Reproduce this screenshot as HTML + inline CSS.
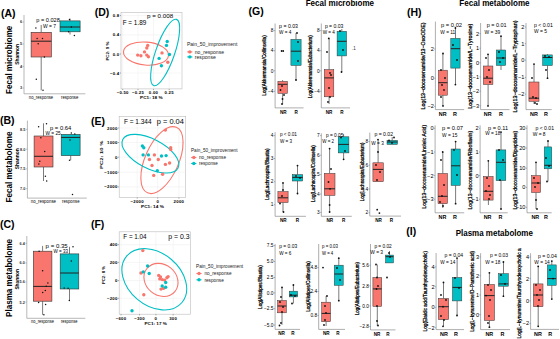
<!DOCTYPE html>
<html><head><meta charset="utf-8"><style>
html,body{margin:0;padding:0;background:#fff;overflow:hidden;}
svg{display:block;font-family:"Liberation Sans", sans-serif;}
</style></head><body>
<svg width="560" height="339" viewBox="0 0 560 339">
<rect width="560" height="339" fill="#fff"/>
<line x1="24.0" y1="15.0" x2="24.0" y2="93.8" stroke="#999" stroke-width="0.7"/>
<line x1="24.0" y1="93.8" x2="85.4" y2="93.8" stroke="#999" stroke-width="0.7"/>
<line x1="22.5" y1="22.0" x2="24.0" y2="22.0" stroke="#888" stroke-width="0.5"/>
<text x="22.0" y="23.4" text-anchor="end" font-size="3.8" font-weight="bold" fill="#333">6</text>
<line x1="22.5" y1="44.0" x2="24.0" y2="44.0" stroke="#888" stroke-width="0.5"/>
<text x="22.0" y="45.4" text-anchor="end" font-size="3.8" font-weight="bold" fill="#333">5</text>
<line x1="22.5" y1="66.4" x2="24.0" y2="66.4" stroke="#888" stroke-width="0.5"/>
<text x="22.0" y="67.8" text-anchor="end" font-size="3.8" font-weight="bold" fill="#333">4</text>
<line x1="22.5" y1="88.0" x2="24.0" y2="88.0" stroke="#888" stroke-width="0.5"/>
<text x="22.0" y="89.4" text-anchor="end" font-size="3.8" font-weight="bold" fill="#333">3</text>
<line x1="41.2" y1="25.0" x2="41.2" y2="32.3" stroke="#222" stroke-width="0.6"/>
<line x1="41.2" y1="57.0" x2="41.2" y2="90.3" stroke="#222" stroke-width="0.6"/>
<rect x="31.1" y="32.3" width="20.2" height="24.7" fill="#F8766D" stroke="#333" stroke-width="0.6"/>
<line x1="31.1" y1="41.2" x2="51.3" y2="41.2" stroke="#222" stroke-width="1.0"/>
<circle cx="36.3" cy="79.2" r="0.75" fill="#111"/>
<circle cx="43.0" cy="90.3" r="0.75" fill="#111"/>
<circle cx="44.4" cy="57.0" r="0.75" fill="#111"/>
<circle cx="37.1" cy="38.5" r="0.75" fill="#111"/>
<circle cx="42.5" cy="38.5" r="0.75" fill="#111"/>
<circle cx="38.2" cy="43.7" r="0.75" fill="#111"/>
<circle cx="35.9" cy="27.9" r="0.75" fill="#111"/>
<line x1="70.0" y1="18.6" x2="70.0" y2="20.9" stroke="#222" stroke-width="0.6"/>
<line x1="70.0" y1="31.8" x2="70.0" y2="34.5" stroke="#222" stroke-width="0.6"/>
<rect x="60.0" y="20.9" width="20.1" height="10.9" fill="#00BFC4" stroke="#333" stroke-width="0.6"/>
<line x1="60.0" y1="27.0" x2="80.1" y2="27.0" stroke="#222" stroke-width="1.0"/>
<circle cx="69.5" cy="19.4" r="0.75" fill="#111"/>
<circle cx="71.3" cy="26.9" r="0.75" fill="#111"/>
<circle cx="68.6" cy="31.8" r="0.75" fill="#111"/>
<circle cx="74.4" cy="35.4" r="0.75" fill="#111"/>
<text x="36.3" y="22.0" text-anchor="start" font-size="5.6" fill="#000" textLength="23.5" lengthAdjust="spacingAndGlyphs">p = 0.028</text>
<text x="43.0" y="28.0" text-anchor="start" font-size="5.6" fill="#000" textLength="13.0" lengthAdjust="spacingAndGlyphs">W = 7</text>
<text transform="translate(11.6,59.8) rotate(-90)" text-anchor="middle" font-size="8.8" font-weight="bold" fill="#000" textLength="68.2" lengthAdjust="spacingAndGlyphs">Fecal microbiome</text>
<text transform="translate(19.0,54.4) rotate(-90)" text-anchor="middle" font-size="4.9" font-weight="bold" fill="#000" textLength="20.8" lengthAdjust="spacingAndGlyphs">Shannon</text>
<text x="1.0" y="17.3" text-anchor="start" font-size="10.5" font-weight="bold" fill="#000">(A)</text>
<text x="28.8" y="98.9" text-anchor="start" font-size="4.7" fill="#000" textLength="24.4" lengthAdjust="spacingAndGlyphs">no_response</text>
<text x="61.0" y="98.9" text-anchor="start" font-size="4.7" fill="#000" textLength="17.3" lengthAdjust="spacingAndGlyphs">response</text>
<line x1="27.4" y1="120.6" x2="27.4" y2="198.1" stroke="#999" stroke-width="0.7"/>
<line x1="27.4" y1="198.1" x2="86.8" y2="198.1" stroke="#999" stroke-width="0.7"/>
<line x1="25.9" y1="129.4" x2="27.4" y2="129.4" stroke="#888" stroke-width="0.5"/>
<text x="25.4" y="130.8" text-anchor="end" font-size="3.8" font-weight="bold" fill="#333">8.5</text>
<line x1="25.9" y1="149.2" x2="27.4" y2="149.2" stroke="#888" stroke-width="0.5"/>
<text x="25.4" y="150.6" text-anchor="end" font-size="3.8" font-weight="bold" fill="#333">8.0</text>
<line x1="25.9" y1="168.9" x2="27.4" y2="168.9" stroke="#888" stroke-width="0.5"/>
<text x="25.4" y="170.3" text-anchor="end" font-size="3.8" font-weight="bold" fill="#333">7.5</text>
<line x1="25.9" y1="188.7" x2="27.4" y2="188.7" stroke="#888" stroke-width="0.5"/>
<text x="25.4" y="190.1" text-anchor="end" font-size="3.8" font-weight="bold" fill="#333">7.0</text>
<line x1="43.5" y1="123.3" x2="43.5" y2="136.0" stroke="#222" stroke-width="0.6"/>
<line x1="43.5" y1="167.0" x2="43.5" y2="181.0" stroke="#222" stroke-width="0.6"/>
<rect x="34.1" y="136.0" width="18.9" height="31.0" fill="#F8766D" stroke="#333" stroke-width="0.6"/>
<line x1="34.1" y1="156.3" x2="53.0" y2="156.3" stroke="#222" stroke-width="1.0"/>
<circle cx="40.9" cy="137.8" r="0.75" fill="#111"/>
<circle cx="44.7" cy="151.5" r="0.75" fill="#111"/>
<circle cx="39.8" cy="161.3" r="0.75" fill="#111"/>
<circle cx="38.9" cy="163.9" r="0.75" fill="#111"/>
<circle cx="38.6" cy="126.8" r="0.75" fill="#111"/>
<circle cx="46.5" cy="123.8" r="0.75" fill="#111"/>
<circle cx="45.4" cy="176.2" r="0.75" fill="#111"/>
<circle cx="46.7" cy="181.1" r="0.75" fill="#111"/>
<line x1="70.7" y1="134.4" x2="70.7" y2="134.4" stroke="#222" stroke-width="0.6"/>
<line x1="70.7" y1="155.6" x2="70.7" y2="160.3" stroke="#222" stroke-width="0.6"/>
<rect x="61.2" y="134.4" width="18.9" height="21.2" fill="#00BFC4" stroke="#333" stroke-width="0.6"/>
<line x1="61.2" y1="137.4" x2="80.1" y2="137.4" stroke="#222" stroke-width="1.0"/>
<circle cx="71.3" cy="133.0" r="0.75" fill="#111"/>
<circle cx="74.8" cy="133.9" r="0.75" fill="#111"/>
<circle cx="70.0" cy="140.0" r="0.75" fill="#111"/>
<circle cx="72.5" cy="194.5" r="0.75" fill="#111"/>
<circle cx="69.5" cy="160.3" r="0.75" fill="#111"/>
<text x="50.0" y="129.8" text-anchor="start" font-size="5.9" fill="#000" textLength="21.3" lengthAdjust="spacingAndGlyphs">p = 0.64</text>
<text x="45.6" y="135.0" text-anchor="start" font-size="5.6" fill="#000" textLength="15.1" lengthAdjust="spacingAndGlyphs">W = 25</text>
<text transform="translate(12.2,167.0) rotate(-90)" text-anchor="middle" font-size="8.8" font-weight="bold" fill="#000" textLength="71.0" lengthAdjust="spacingAndGlyphs">Fecal metabolome</text>
<text transform="translate(19.2,158.8) rotate(-90)" text-anchor="middle" font-size="4.9" font-weight="bold" fill="#000" textLength="20.8" lengthAdjust="spacingAndGlyphs">Shannon</text>
<text x="0.0" y="124.3" text-anchor="start" font-size="10.5" font-weight="bold" fill="#000">(B)</text>
<text x="30.8" y="203.4" text-anchor="start" font-size="4.7" fill="#000" textLength="25.2" lengthAdjust="spacingAndGlyphs">no_response</text>
<text x="62.1" y="203.4" text-anchor="start" font-size="4.7" fill="#000" textLength="17.4" lengthAdjust="spacingAndGlyphs">response</text>
<line x1="26.8" y1="236.0" x2="26.8" y2="318.3" stroke="#999" stroke-width="0.7"/>
<line x1="26.8" y1="318.3" x2="85.3" y2="318.3" stroke="#999" stroke-width="0.7"/>
<line x1="25.3" y1="243.3" x2="26.8" y2="243.3" stroke="#888" stroke-width="0.5"/>
<text x="24.8" y="244.7" text-anchor="end" font-size="3.8" font-weight="bold" fill="#333">6.4</text>
<line x1="25.3" y1="263.0" x2="26.8" y2="263.0" stroke="#888" stroke-width="0.5"/>
<text x="24.8" y="264.4" text-anchor="end" font-size="3.8" font-weight="bold" fill="#333">6.0</text>
<line x1="25.3" y1="282.0" x2="26.8" y2="282.0" stroke="#888" stroke-width="0.5"/>
<text x="24.8" y="283.4" text-anchor="end" font-size="3.8" font-weight="bold" fill="#333">5.6</text>
<line x1="25.3" y1="302.1" x2="26.8" y2="302.1" stroke="#888" stroke-width="0.5"/>
<text x="24.8" y="303.5" text-anchor="end" font-size="3.8" font-weight="bold" fill="#333">5.2</text>
<line x1="42.6" y1="245.9" x2="42.6" y2="251.2" stroke="#222" stroke-width="0.6"/>
<line x1="42.6" y1="301.2" x2="42.6" y2="314.8" stroke="#222" stroke-width="0.6"/>
<rect x="33.3" y="251.2" width="18.6" height="50.0" fill="#F8766D" stroke="#333" stroke-width="0.6"/>
<line x1="33.3" y1="286.4" x2="51.9" y2="286.4" stroke="#222" stroke-width="1.0"/>
<circle cx="39.1" cy="251.2" r="0.75" fill="#111"/>
<circle cx="42.6" cy="270.7" r="0.75" fill="#111"/>
<circle cx="47.9" cy="283.0" r="0.75" fill="#111"/>
<circle cx="46.2" cy="286.2" r="0.75" fill="#111"/>
<circle cx="42.7" cy="292.5" r="0.75" fill="#111"/>
<circle cx="45.3" cy="290.4" r="0.75" fill="#111"/>
<circle cx="38.6" cy="302.6" r="0.75" fill="#111"/>
<circle cx="45.6" cy="304.4" r="0.75" fill="#111"/>
<circle cx="43.9" cy="314.8" r="0.75" fill="#111"/>
<line x1="69.5" y1="246.8" x2="69.5" y2="253.9" stroke="#222" stroke-width="0.6"/>
<line x1="69.5" y1="289.0" x2="69.5" y2="300.5" stroke="#222" stroke-width="0.6"/>
<rect x="60.2" y="253.9" width="18.6" height="35.1" fill="#00BFC4" stroke="#333" stroke-width="0.6"/>
<line x1="60.2" y1="273.0" x2="78.8" y2="273.0" stroke="#222" stroke-width="1.0"/>
<circle cx="71.3" cy="260.9" r="0.75" fill="#111"/>
<circle cx="64.2" cy="288.0" r="0.75" fill="#111"/>
<circle cx="68.1" cy="288.3" r="0.75" fill="#111"/>
<circle cx="69.3" cy="300.5" r="0.75" fill="#111"/>
<circle cx="73.0" cy="246.8" r="0.75" fill="#111"/>
<text x="45.6" y="248.4" text-anchor="start" font-size="5.9" fill="#000" textLength="22.1" lengthAdjust="spacingAndGlyphs">p = 0.35</text>
<text x="53.6" y="253.1" text-anchor="start" font-size="5.4" fill="#000" textLength="14.4" lengthAdjust="spacingAndGlyphs">W = 33</text>
<text transform="translate(12.0,277.9) rotate(-90)" text-anchor="middle" font-size="8.8" font-weight="bold" fill="#000" textLength="78.0" lengthAdjust="spacingAndGlyphs">Plasma metabolome</text>
<text transform="translate(19.2,279.3) rotate(-90)" text-anchor="middle" font-size="4.9" font-weight="bold" fill="#000" textLength="20.6" lengthAdjust="spacingAndGlyphs">Shannon</text>
<text x="0.0" y="228.4" text-anchor="start" font-size="10.5" font-weight="bold" fill="#000">(C)</text>
<text x="31.0" y="323.1" text-anchor="start" font-size="4.7" fill="#000" textLength="23.0" lengthAdjust="spacingAndGlyphs">no_response</text>
<text x="61.0" y="323.1" text-anchor="start" font-size="4.7" fill="#000" textLength="16.5" lengthAdjust="spacingAndGlyphs">response</text>
<rect x="121" y="12.4" width="61.0" height="76.5" fill="#fff" stroke="#bbb" stroke-width="0.6"/>
<line x1="121.0" y1="15.6" x2="182.0" y2="15.6" stroke="#ececec" stroke-width="0.5"/>
<line x1="121.0" y1="34.9" x2="182.0" y2="34.9" stroke="#ececec" stroke-width="0.5"/>
<line x1="121.0" y1="54.0" x2="182.0" y2="54.0" stroke="#ececec" stroke-width="0.5"/>
<line x1="121.0" y1="73.0" x2="182.0" y2="73.0" stroke="#ececec" stroke-width="0.5"/>
<line x1="122.7" y1="12.4" x2="122.7" y2="88.9" stroke="#ececec" stroke-width="0.5"/>
<line x1="138.0" y1="12.4" x2="138.0" y2="88.9" stroke="#ececec" stroke-width="0.5"/>
<line x1="153.5" y1="12.4" x2="153.5" y2="88.9" stroke="#ececec" stroke-width="0.5"/>
<line x1="169.2" y1="12.4" x2="169.2" y2="88.9" stroke="#ececec" stroke-width="0.5"/>
<line x1="119.8" y1="15.6" x2="121.0" y2="15.6" stroke="#555" stroke-width="0.5"/>
<text x="119.4" y="17.1" text-anchor="end" font-size="4.3" font-weight="bold" fill="#000" letter-spacing="0.25">0.8</text>
<line x1="119.8" y1="34.9" x2="121.0" y2="34.9" stroke="#555" stroke-width="0.5"/>
<text x="119.4" y="36.4" text-anchor="end" font-size="4.3" font-weight="bold" fill="#000" letter-spacing="0.25">0.4</text>
<line x1="119.8" y1="54.0" x2="121.0" y2="54.0" stroke="#555" stroke-width="0.5"/>
<text x="119.4" y="55.5" text-anchor="end" font-size="4.3" font-weight="bold" fill="#000" letter-spacing="0.25">0.0</text>
<line x1="119.8" y1="73.0" x2="121.0" y2="73.0" stroke="#555" stroke-width="0.5"/>
<text x="119.4" y="74.5" text-anchor="end" font-size="4.3" font-weight="bold" fill="#000" letter-spacing="0.25">&#8722;0.4</text>
<line x1="122.7" y1="88.9" x2="122.7" y2="90.1" stroke="#555" stroke-width="0.5"/>
<text x="122.7" y="94.2" text-anchor="middle" font-size="4.3" font-weight="bold" fill="#000" letter-spacing="0.25">&#8722;0.50</text>
<line x1="138.0" y1="88.9" x2="138.0" y2="90.1" stroke="#555" stroke-width="0.5"/>
<text x="138.0" y="94.2" text-anchor="middle" font-size="4.3" font-weight="bold" fill="#000" letter-spacing="0.25">&#8722;0.25</text>
<line x1="153.5" y1="88.9" x2="153.5" y2="90.1" stroke="#555" stroke-width="0.5"/>
<text x="153.5" y="94.2" text-anchor="middle" font-size="4.3" font-weight="bold" fill="#000" letter-spacing="0.25">0.00</text>
<line x1="169.2" y1="88.9" x2="169.2" y2="90.1" stroke="#555" stroke-width="0.5"/>
<text x="169.2" y="94.2" text-anchor="middle" font-size="4.3" font-weight="bold" fill="#000" letter-spacing="0.25">0.25</text>
<ellipse cx="146" cy="53.6" rx="22.6" ry="11.5" transform="rotate(5 146 53.6)" fill="none" stroke="#F8766D" stroke-width="1.1"/>
<ellipse cx="165.15" cy="52.45" rx="35" ry="9.5" transform="rotate(-71 165.15 52.45)" fill="none" stroke="#00BFC4" stroke-width="1.1"/>
<circle cx="147.7" cy="45.4" r="1.7" fill="#F8766D"/>
<circle cx="146.8" cy="48.0" r="1.7" fill="#F8766D"/>
<circle cx="144.5" cy="51.9" r="1.7" fill="#F8766D"/>
<circle cx="137.7" cy="55.1" r="1.7" fill="#F8766D"/>
<circle cx="140.9" cy="55.8" r="1.7" fill="#F8766D"/>
<circle cx="146.8" cy="55.1" r="1.7" fill="#F8766D"/>
<circle cx="148.4" cy="56.8" r="1.7" fill="#F8766D"/>
<circle cx="162.0" cy="52.9" r="1.7" fill="#F8766D"/>
<circle cx="167.8" cy="62.3" r="1.7" fill="#F8766D"/>
<circle cx="167.2" cy="41.5" r="1.7" fill="#00BFC4"/>
<circle cx="166.5" cy="45.4" r="1.7" fill="#00BFC4"/>
<circle cx="169.5" cy="54.5" r="1.7" fill="#00BFC4"/>
<circle cx="159.1" cy="58.4" r="1.7" fill="#00BFC4"/>
<circle cx="161.4" cy="65.8" r="1.7" fill="#00BFC4"/>
<text x="122.7" y="25.0" text-anchor="start" font-size="6.4" fill="#000" textLength="23.6" lengthAdjust="spacingAndGlyphs">F = 1.89</text>
<text x="147.0" y="18.1" text-anchor="start" font-size="6.2" fill="#000" textLength="26.1" lengthAdjust="spacingAndGlyphs">p = 0.008</text>
<text transform="translate(108.7,51.1) rotate(-90)" text-anchor="middle" font-size="4.3" font-weight="bold" fill="#000" textLength="19.0" lengthAdjust="spacingAndGlyphs">PC2: 9 %</text>
<text x="140.0" y="98.9" text-anchor="start" font-size="4.3" font-weight="bold" fill="#000" textLength="22.7" lengthAdjust="spacingAndGlyphs">PC1: 18 %</text>
<text x="94.7" y="16.1" text-anchor="start" font-size="10.5" font-weight="bold" fill="#000">(D)</text>
<text x="186.9" y="45.9" text-anchor="start" font-size="5.4" fill="#1a1a1a" textLength="50.4" lengthAdjust="spacingAndGlyphs">Pain_50_improvement</text>
<circle cx="189.8" cy="51.9" r="1.7" fill="#F8766D"/>
<circle cx="189.8" cy="56.9" r="1.7" fill="#00BFC4"/>
<line x1="187.2" y1="51.9" x2="192.4" y2="51.9" stroke="#F8766D" stroke-width="1.0"/>
<line x1="187.2" y1="56.9" x2="192.4" y2="56.9" stroke="#00BFC4" stroke-width="1.0"/>
<text x="194.8" y="53.8" text-anchor="start" font-size="5.4" fill="#1a1a1a" textLength="29.2" lengthAdjust="spacingAndGlyphs">no_response</text>
<text x="194.8" y="58.8" text-anchor="start" font-size="5.4" fill="#1a1a1a" textLength="21.1" lengthAdjust="spacingAndGlyphs">response</text>
<rect x="119.2" y="116.5" width="66.5" height="81.0" fill="#fff" stroke="#bbb" stroke-width="0.6"/>
<line x1="119.2" y1="128.0" x2="185.7" y2="128.0" stroke="#ececec" stroke-width="0.5"/>
<line x1="119.2" y1="142.5" x2="185.7" y2="142.5" stroke="#ececec" stroke-width="0.5"/>
<line x1="119.2" y1="157.2" x2="185.7" y2="157.2" stroke="#ececec" stroke-width="0.5"/>
<line x1="119.2" y1="172.2" x2="185.7" y2="172.2" stroke="#ececec" stroke-width="0.5"/>
<line x1="119.2" y1="186.9" x2="185.7" y2="186.9" stroke="#ececec" stroke-width="0.5"/>
<line x1="137.2" y1="116.5" x2="137.2" y2="197.5" stroke="#ececec" stroke-width="0.5"/>
<line x1="157.7" y1="116.5" x2="157.7" y2="197.5" stroke="#ececec" stroke-width="0.5"/>
<line x1="178.9" y1="116.5" x2="178.9" y2="197.5" stroke="#ececec" stroke-width="0.5"/>
<line x1="118.0" y1="128.0" x2="119.2" y2="128.0" stroke="#555" stroke-width="0.5"/>
<text x="117.6" y="129.5" text-anchor="end" font-size="4.3" font-weight="bold" fill="#000" letter-spacing="0.25">2000</text>
<line x1="118.0" y1="142.5" x2="119.2" y2="142.5" stroke="#555" stroke-width="0.5"/>
<text x="117.6" y="144.0" text-anchor="end" font-size="4.3" font-weight="bold" fill="#000" letter-spacing="0.25">1000</text>
<line x1="118.0" y1="157.2" x2="119.2" y2="157.2" stroke="#555" stroke-width="0.5"/>
<text x="117.6" y="158.7" text-anchor="end" font-size="4.3" font-weight="bold" fill="#000" letter-spacing="0.25">0</text>
<line x1="118.0" y1="172.2" x2="119.2" y2="172.2" stroke="#555" stroke-width="0.5"/>
<text x="117.6" y="173.7" text-anchor="end" font-size="4.3" font-weight="bold" fill="#000" letter-spacing="0.25">&#8722;1000</text>
<line x1="118.0" y1="186.9" x2="119.2" y2="186.9" stroke="#555" stroke-width="0.5"/>
<text x="117.6" y="188.4" text-anchor="end" font-size="4.3" font-weight="bold" fill="#000" letter-spacing="0.25">&#8722;2000</text>
<line x1="137.2" y1="197.5" x2="137.2" y2="198.7" stroke="#555" stroke-width="0.5"/>
<text x="137.2" y="202.8" text-anchor="middle" font-size="4.3" font-weight="bold" fill="#000" letter-spacing="0.25">&#8722;2000</text>
<line x1="157.7" y1="197.5" x2="157.7" y2="198.7" stroke="#555" stroke-width="0.5"/>
<text x="157.7" y="202.8" text-anchor="middle" font-size="4.3" font-weight="bold" fill="#000" letter-spacing="0.25">0</text>
<line x1="178.9" y1="197.5" x2="178.9" y2="198.7" stroke="#555" stroke-width="0.5"/>
<text x="178.9" y="202.8" text-anchor="middle" font-size="4.3" font-weight="bold" fill="#000" letter-spacing="0.25">2000</text>
<ellipse cx="161.95" cy="160.1" rx="35.8" ry="16.8" transform="rotate(-66.2 161.95 160.1)" fill="none" stroke="#F8766D" stroke-width="1.1"/>
<ellipse cx="150.4" cy="153.7" rx="31.1" ry="14.7" transform="rotate(27.3 150.4 153.7)" fill="none" stroke="#00BFC4" stroke-width="1.1"/>
<circle cx="165.4" cy="130.1" r="1.7" fill="#F8766D"/>
<circle cx="170.7" cy="147.8" r="1.7" fill="#F8766D"/>
<circle cx="170.7" cy="149.6" r="1.7" fill="#F8766D"/>
<circle cx="154.4" cy="154.9" r="1.7" fill="#F8766D"/>
<circle cx="149.5" cy="159.5" r="1.7" fill="#F8766D"/>
<circle cx="158.3" cy="159.5" r="1.7" fill="#F8766D"/>
<circle cx="165.4" cy="164.4" r="1.7" fill="#F8766D"/>
<circle cx="169.6" cy="163.0" r="1.7" fill="#F8766D"/>
<circle cx="152.0" cy="165.5" r="1.7" fill="#F8766D"/>
<circle cx="153.7" cy="175.4" r="1.7" fill="#F8766D"/>
<circle cx="162.6" cy="174.3" r="1.7" fill="#F8766D"/>
<circle cx="142.4" cy="146.0" r="1.7" fill="#00BFC4"/>
<circle cx="143.8" cy="147.8" r="1.7" fill="#00BFC4"/>
<circle cx="143.1" cy="154.9" r="1.7" fill="#00BFC4"/>
<circle cx="148.4" cy="154.9" r="1.7" fill="#00BFC4"/>
<circle cx="161.5" cy="156.0" r="1.7" fill="#00BFC4"/>
<circle cx="166.1" cy="155.6" r="1.7" fill="#00BFC4"/>
<circle cx="157.3" cy="170.8" r="1.7" fill="#00BFC4"/>
<text x="124.0" y="123.7" text-anchor="start" font-size="6.8" fill="#000" textLength="27.5" lengthAdjust="spacingAndGlyphs">F = 1.344</text>
<text x="156.8" y="123.7" text-anchor="start" font-size="7.4" fill="#000" textLength="27.1" lengthAdjust="spacingAndGlyphs">p = 0.04</text>
<text transform="translate(102.5,154.8) rotate(-90)" text-anchor="middle" font-size="4.3" font-weight="bold" fill="#000" textLength="28.3" lengthAdjust="spacingAndGlyphs">PC2: 10 %</text>
<text x="141.0" y="207.5" text-anchor="start" font-size="4.3" font-weight="bold" fill="#000" textLength="22.9" lengthAdjust="spacingAndGlyphs">PC1: 14 %</text>
<text x="90.9" y="125.0" text-anchor="start" font-size="10.5" font-weight="bold" fill="#000">(E)</text>
<text x="191.0" y="152.2" text-anchor="start" font-size="5.4" fill="#1a1a1a" textLength="46.5" lengthAdjust="spacingAndGlyphs">Pain_50_improvement</text>
<circle cx="193.8" cy="157.5" r="1.7" fill="#F8766D"/>
<circle cx="193.8" cy="163.5" r="1.7" fill="#00BFC4"/>
<line x1="191.2" y1="157.5" x2="196.4" y2="157.5" stroke="#F8766D" stroke-width="1.0"/>
<line x1="191.2" y1="163.5" x2="196.4" y2="163.5" stroke="#00BFC4" stroke-width="1.0"/>
<text x="199.0" y="159.4" text-anchor="start" font-size="5.4" fill="#1a1a1a" textLength="27.0" lengthAdjust="spacingAndGlyphs">no_response</text>
<text x="199.0" y="165.4" text-anchor="start" font-size="5.4" fill="#1a1a1a" textLength="18.8" lengthAdjust="spacingAndGlyphs">response</text>
<rect x="119.2" y="231.8" width="71.2" height="82.4" fill="#fff" stroke="#bbb" stroke-width="0.6"/>
<line x1="119.2" y1="244.7" x2="190.4" y2="244.7" stroke="#ececec" stroke-width="0.5"/>
<line x1="119.2" y1="262.4" x2="190.4" y2="262.4" stroke="#ececec" stroke-width="0.5"/>
<line x1="119.2" y1="280.6" x2="190.4" y2="280.6" stroke="#ececec" stroke-width="0.5"/>
<line x1="119.2" y1="298.3" x2="190.4" y2="298.3" stroke="#ececec" stroke-width="0.5"/>
<line x1="121.0" y1="231.8" x2="121.0" y2="314.2" stroke="#ececec" stroke-width="0.5"/>
<line x1="139.5" y1="231.8" x2="139.5" y2="314.2" stroke="#ececec" stroke-width="0.5"/>
<line x1="155.9" y1="231.8" x2="155.9" y2="314.2" stroke="#ececec" stroke-width="0.5"/>
<line x1="173.2" y1="231.8" x2="173.2" y2="314.2" stroke="#ececec" stroke-width="0.5"/>
<line x1="118.0" y1="244.7" x2="119.2" y2="244.7" stroke="#555" stroke-width="0.5"/>
<text x="117.6" y="246.2" text-anchor="end" font-size="4.3" font-weight="bold" fill="#000" letter-spacing="0.25">400</text>
<line x1="118.0" y1="262.4" x2="119.2" y2="262.4" stroke="#555" stroke-width="0.5"/>
<text x="117.6" y="263.9" text-anchor="end" font-size="4.3" font-weight="bold" fill="#000" letter-spacing="0.25">200</text>
<line x1="118.0" y1="280.6" x2="119.2" y2="280.6" stroke="#555" stroke-width="0.5"/>
<text x="117.6" y="282.1" text-anchor="end" font-size="4.3" font-weight="bold" fill="#000" letter-spacing="0.25">0</text>
<line x1="118.0" y1="298.3" x2="119.2" y2="298.3" stroke="#555" stroke-width="0.5"/>
<text x="117.6" y="299.8" text-anchor="end" font-size="4.3" font-weight="bold" fill="#000" letter-spacing="0.25">&#8722;200</text>
<line x1="121.0" y1="314.2" x2="121.0" y2="315.4" stroke="#555" stroke-width="0.5"/>
<text x="121.0" y="319.5" text-anchor="middle" font-size="4.3" font-weight="bold" fill="#000" letter-spacing="0.25">&#8722;600</text>
<line x1="139.5" y1="314.2" x2="139.5" y2="315.4" stroke="#555" stroke-width="0.5"/>
<text x="139.5" y="319.5" text-anchor="middle" font-size="4.3" font-weight="bold" fill="#000" letter-spacing="0.25">&#8722;300</text>
<line x1="155.9" y1="314.2" x2="155.9" y2="315.4" stroke="#555" stroke-width="0.5"/>
<text x="155.9" y="319.5" text-anchor="middle" font-size="4.3" font-weight="bold" fill="#000" letter-spacing="0.25">0</text>
<line x1="173.2" y1="314.2" x2="173.2" y2="315.4" stroke="#555" stroke-width="0.5"/>
<text x="173.2" y="319.5" text-anchor="middle" font-size="4.3" font-weight="bold" fill="#000" letter-spacing="0.25">300</text>
<ellipse cx="161" cy="279.9" rx="18.1" ry="15.4" transform="rotate(40 161 279.9)" fill="none" stroke="#F8766D" stroke-width="1.1"/>
<ellipse cx="154.3" cy="279.3" rx="36.1" ry="26.2" transform="rotate(40 154.3 279.3)" fill="none" stroke="#00BFC4" stroke-width="1.1"/>
<circle cx="142.8" cy="250.6" r="1.7" fill="#F8766D"/>
<circle cx="141.0" cy="273.0" r="1.7" fill="#F8766D"/>
<circle cx="143.8" cy="294.7" r="1.7" fill="#F8766D"/>
<circle cx="158.7" cy="275.4" r="1.7" fill="#F8766D"/>
<circle cx="159.8" cy="278.9" r="1.7" fill="#F8766D"/>
<circle cx="162.2" cy="279.6" r="1.7" fill="#F8766D"/>
<circle cx="164.6" cy="280.1" r="1.7" fill="#F8766D"/>
<circle cx="166.9" cy="277.8" r="1.7" fill="#F8766D"/>
<circle cx="168.1" cy="276.6" r="1.7" fill="#F8766D"/>
<circle cx="161.0" cy="289.1" r="1.7" fill="#F8766D"/>
<circle cx="163.4" cy="288.4" r="1.7" fill="#F8766D"/>
<circle cx="160.5" cy="277.0" r="1.7" fill="#F8766D"/>
<circle cx="147.6" cy="266.0" r="1.7" fill="#00BFC4"/>
<circle cx="143.3" cy="271.9" r="1.7" fill="#00BFC4"/>
<circle cx="149.2" cy="273.5" r="1.7" fill="#00BFC4"/>
<circle cx="165.7" cy="282.5" r="1.7" fill="#00BFC4"/>
<circle cx="162.2" cy="286.0" r="1.7" fill="#00BFC4"/>
<circle cx="165.7" cy="287.2" r="1.7" fill="#00BFC4"/>
<circle cx="132.0" cy="310.8" r="1.7" fill="#00BFC4"/>
<text x="123.3" y="238.9" text-anchor="start" font-size="6.3" fill="#000" textLength="23.3" lengthAdjust="spacingAndGlyphs">F = 1.04</text>
<text x="168.3" y="238.7" text-anchor="start" font-size="6.9" fill="#000" textLength="21.3" lengthAdjust="spacingAndGlyphs">p = 0.3</text>
<text transform="translate(104.8,275.0) rotate(-90)" text-anchor="middle" font-size="4.3" font-weight="bold" fill="#000" textLength="18.0" lengthAdjust="spacingAndGlyphs">PC2: 8 %</text>
<text x="144.5" y="324.5" text-anchor="start" font-size="4.3" font-weight="bold" fill="#000" textLength="22.4" lengthAdjust="spacingAndGlyphs">PC1: 17 %</text>
<text x="90.9" y="228.4" text-anchor="start" font-size="10.5" font-weight="bold" fill="#000">(F)</text>
<text x="196.0" y="268.2" text-anchor="start" font-size="5.4" fill="#1a1a1a" textLength="47.1" lengthAdjust="spacingAndGlyphs">Pain_50_improvement</text>
<circle cx="199.0" cy="273.5" r="1.7" fill="#F8766D"/>
<circle cx="199.0" cy="279.8" r="1.7" fill="#00BFC4"/>
<line x1="196.4" y1="273.5" x2="201.6" y2="273.5" stroke="#F8766D" stroke-width="1.0"/>
<line x1="196.4" y1="279.8" x2="201.6" y2="279.8" stroke="#00BFC4" stroke-width="1.0"/>
<text x="204.4" y="275.4" text-anchor="start" font-size="5.4" fill="#1a1a1a" textLength="27.1" lengthAdjust="spacingAndGlyphs">no_response</text>
<text x="204.4" y="281.7" text-anchor="start" font-size="5.4" fill="#1a1a1a" textLength="19.4" lengthAdjust="spacingAndGlyphs">response</text>
<text x="248.5" y="14.7" text-anchor="start" font-size="10.5" font-weight="bold" fill="#000">(G)</text>
<text x="305.7" y="6.2" text-anchor="start" font-size="8.6" font-weight="bold" fill="#000" textLength="68.4" lengthAdjust="spacingAndGlyphs">Fecal microbiome</text>
<line x1="275.1" y1="23.5" x2="275.1" y2="107.9" stroke="#777" stroke-width="0.6"/>
<line x1="275.1" y1="107.9" x2="303.6" y2="107.9" stroke="#777" stroke-width="0.6"/>
<line x1="273.9" y1="30.6" x2="275.1" y2="30.6" stroke="#666" stroke-width="0.5"/>
<text x="273.5" y="32.3" text-anchor="end" font-size="4.8" fill="#000">8</text>
<line x1="273.9" y1="50.7" x2="275.1" y2="50.7" stroke="#666" stroke-width="0.5"/>
<text x="273.5" y="52.4" text-anchor="end" font-size="4.8" fill="#000">4</text>
<line x1="273.9" y1="70.8" x2="275.1" y2="70.8" stroke="#666" stroke-width="0.5"/>
<text x="273.5" y="72.5" text-anchor="end" font-size="4.8" fill="#000">0</text>
<line x1="273.9" y1="91.3" x2="275.1" y2="91.3" stroke="#666" stroke-width="0.5"/>
<text x="273.5" y="93.0" text-anchor="end" font-size="4.8" fill="#000">&#8722;4</text>
<line x1="282.6" y1="80.0" x2="282.6" y2="81.4" stroke="#222" stroke-width="0.6"/>
<line x1="282.6" y1="93.4" x2="282.6" y2="104.3" stroke="#222" stroke-width="0.6"/>
<rect x="277.9" y="81.4" width="9.5" height="12.0" fill="#F8766D" stroke="#333" stroke-width="0.5"/>
<line x1="277.9" y1="84.3" x2="287.4" y2="84.3" stroke="#222" stroke-width="1.0"/>
<circle cx="281.6" cy="51.0" r="0.9" fill="#111"/>
<circle cx="283.2" cy="51.0" r="0.9" fill="#111"/>
<circle cx="282.0" cy="86.0" r="0.9" fill="#111"/>
<circle cx="280.5" cy="90.0" r="0.9" fill="#111"/>
<circle cx="284.0" cy="95.0" r="0.9" fill="#111"/>
<circle cx="282.5" cy="99.0" r="0.9" fill="#111"/>
<circle cx="282.0" cy="104.0" r="0.9" fill="#111"/>
<line x1="296.0" y1="33.0" x2="296.0" y2="39.4" stroke="#222" stroke-width="0.6"/>
<line x1="296.0" y1="65.4" x2="296.0" y2="80.2" stroke="#222" stroke-width="0.6"/>
<rect x="290.9" y="39.4" width="10.2" height="26.0" fill="#00BFC4" stroke="#333" stroke-width="0.5"/>
<line x1="290.9" y1="51.2" x2="301.1" y2="51.2" stroke="#222" stroke-width="1.0"/>
<circle cx="297.0" cy="33.0" r="0.9" fill="#111"/>
<circle cx="298.0" cy="42.0" r="0.9" fill="#111"/>
<circle cx="298.0" cy="61.0" r="0.9" fill="#111"/>
<circle cx="296.0" cy="80.0" r="0.9" fill="#111"/>
<text transform="translate(266.3,65.5) rotate(-90)" text-anchor="middle" font-size="4.65" fill="#000" stroke="#000" stroke-width="0.25" textLength="60.4" lengthAdjust="spacingAndGlyphs">Log(Akkermansia/Collinsella)</text>
<text x="279.1" y="27.8" text-anchor="start" font-size="5.2" fill="#000" textLength="18.9" lengthAdjust="spacingAndGlyphs">p = 0.03</text>
<text x="278.9" y="34.1" text-anchor="start" font-size="5.2" fill="#000" textLength="12.4" lengthAdjust="spacingAndGlyphs">W = 4</text>
<text x="283.2" y="113.7" text-anchor="middle" font-size="4.6" font-weight="bold" fill="#000">NR</text>
<text x="296.2" y="113.7" text-anchor="middle" font-size="4.6" font-weight="bold" fill="#000">R</text>
<line x1="321.3" y1="23.5" x2="321.3" y2="107.9" stroke="#777" stroke-width="0.6"/>
<line x1="321.3" y1="107.9" x2="350.0" y2="107.9" stroke="#777" stroke-width="0.6"/>
<line x1="320.1" y1="30.6" x2="321.3" y2="30.6" stroke="#666" stroke-width="0.5"/>
<text x="319.7" y="32.3" text-anchor="end" font-size="4.8" fill="#000">8</text>
<line x1="320.1" y1="50.7" x2="321.3" y2="50.7" stroke="#666" stroke-width="0.5"/>
<text x="319.7" y="52.4" text-anchor="end" font-size="4.8" fill="#000">4</text>
<line x1="320.1" y1="70.8" x2="321.3" y2="70.8" stroke="#666" stroke-width="0.5"/>
<text x="319.7" y="72.5" text-anchor="end" font-size="4.8" fill="#000">0</text>
<line x1="320.1" y1="91.3" x2="321.3" y2="91.3" stroke="#666" stroke-width="0.5"/>
<text x="319.7" y="93.0" text-anchor="end" font-size="4.8" fill="#000">&#8722;4</text>
<line x1="329.1" y1="38.4" x2="329.1" y2="69.6" stroke="#222" stroke-width="0.6"/>
<line x1="329.1" y1="96.8" x2="329.1" y2="104.0" stroke="#222" stroke-width="0.6"/>
<rect x="324.3" y="69.6" width="9.5" height="27.2" fill="#F8766D" stroke="#333" stroke-width="0.5"/>
<line x1="324.3" y1="77.9" x2="333.8" y2="77.9" stroke="#222" stroke-width="1.0"/>
<circle cx="328.8" cy="38.4" r="0.9" fill="#111"/>
<circle cx="327.0" cy="52.0" r="0.9" fill="#111"/>
<circle cx="330.0" cy="73.0" r="0.9" fill="#111"/>
<circle cx="331.0" cy="75.0" r="0.9" fill="#111"/>
<circle cx="329.0" cy="88.0" r="0.9" fill="#111"/>
<circle cx="330.0" cy="97.0" r="0.9" fill="#111"/>
<circle cx="328.0" cy="102.0" r="0.9" fill="#111"/>
<line x1="341.8" y1="29.0" x2="341.8" y2="31.3" stroke="#222" stroke-width="0.6"/>
<line x1="341.8" y1="55.9" x2="341.8" y2="72.0" stroke="#222" stroke-width="0.6"/>
<rect x="337.1" y="31.3" width="9.4" height="24.6" fill="#00BFC4" stroke="#333" stroke-width="0.5"/>
<line x1="337.1" y1="41.3" x2="346.5" y2="41.3" stroke="#222" stroke-width="1.0"/>
<circle cx="340.0" cy="31.0" r="0.9" fill="#111"/>
<circle cx="343.0" cy="50.0" r="0.9" fill="#111"/>
<circle cx="341.5" cy="72.0" r="0.9" fill="#111"/>
<text transform="translate(312.1,66.7) rotate(-90)" text-anchor="middle" font-size="4.65" fill="#000" stroke="#000" stroke-width="0.25" textLength="63.0" lengthAdjust="spacingAndGlyphs">Log(Akkermansia/Eubacterium)</text>
<text x="324.9" y="28.0" text-anchor="start" font-size="5.2" fill="#000" textLength="18.5" lengthAdjust="spacingAndGlyphs">p = 0.03</text>
<text x="322.7" y="34.1" text-anchor="start" font-size="5.2" fill="#000" textLength="12.2" lengthAdjust="spacingAndGlyphs">W = 4</text>
<text x="329.0" y="113.7" text-anchor="middle" font-size="4.6" font-weight="bold" fill="#000">NR</text>
<text x="342.0" y="113.7" text-anchor="middle" font-size="4.6" font-weight="bold" fill="#000">R</text>
<text x="352.0" y="50.3" text-anchor="start" font-size="4.5" fill="#333">.1</text>
<line x1="275.1" y1="132.1" x2="275.1" y2="216.3" stroke="#777" stroke-width="0.6"/>
<line x1="275.1" y1="216.3" x2="305.9" y2="216.3" stroke="#777" stroke-width="0.6"/>
<line x1="273.9" y1="135.6" x2="275.1" y2="135.6" stroke="#666" stroke-width="0.5"/>
<text x="273.5" y="137.3" text-anchor="end" font-size="4.8" fill="#000">4</text>
<line x1="273.9" y1="158.5" x2="275.1" y2="158.5" stroke="#666" stroke-width="0.5"/>
<text x="273.5" y="160.2" text-anchor="end" font-size="4.8" fill="#000">3</text>
<line x1="273.9" y1="181.7" x2="275.1" y2="181.7" stroke="#666" stroke-width="0.5"/>
<text x="273.5" y="183.4" text-anchor="end" font-size="4.8" fill="#000">2</text>
<line x1="273.9" y1="204.7" x2="275.1" y2="204.7" stroke="#666" stroke-width="0.5"/>
<text x="273.5" y="206.4" text-anchor="end" font-size="4.8" fill="#000">1</text>
<line x1="283.0" y1="182.9" x2="283.0" y2="191.6" stroke="#222" stroke-width="0.6"/>
<line x1="283.0" y1="202.5" x2="283.0" y2="212.0" stroke="#222" stroke-width="0.6"/>
<rect x="277.9" y="191.6" width="10.2" height="10.9" fill="#F8766D" stroke="#333" stroke-width="0.5"/>
<line x1="277.9" y1="197.8" x2="288.1" y2="197.8" stroke="#222" stroke-width="1.0"/>
<circle cx="283.0" cy="182.9" r="0.9" fill="#111"/>
<circle cx="283.0" cy="190.0" r="0.9" fill="#111"/>
<circle cx="282.0" cy="196.0" r="0.9" fill="#111"/>
<circle cx="280.0" cy="203.5" r="0.9" fill="#111"/>
<circle cx="283.5" cy="212.0" r="0.9" fill="#111"/>
<line x1="297.5" y1="165.6" x2="297.5" y2="174.6" stroke="#222" stroke-width="0.6"/>
<line x1="297.5" y1="181.0" x2="297.5" y2="193.5" stroke="#222" stroke-width="0.6"/>
<rect x="292.3" y="174.6" width="10.4" height="6.4" fill="#00BFC4" stroke="#333" stroke-width="0.5"/>
<line x1="292.3" y1="177.4" x2="302.7" y2="177.4" stroke="#222" stroke-width="1.0"/>
<circle cx="297.5" cy="165.6" r="0.9" fill="#111"/>
<circle cx="296.0" cy="176.0" r="0.9" fill="#111"/>
<circle cx="300.0" cy="178.0" r="0.9" fill="#111"/>
<circle cx="297.5" cy="193.5" r="0.9" fill="#111"/>
<text transform="translate(268.7,174.2) rotate(-90)" text-anchor="middle" font-size="4.65" fill="#000" stroke="#000" stroke-width="0.25" textLength="51.7" lengthAdjust="spacingAndGlyphs">Log(Lachnospira/Blautia)</text>
<text x="279.9" y="136.3" text-anchor="start" font-size="5.2" fill="#000" textLength="17.1" lengthAdjust="spacingAndGlyphs">p &lt; 0.01</text>
<text x="279.9" y="143.0" text-anchor="start" font-size="5.2" fill="#000" textLength="12.1" lengthAdjust="spacingAndGlyphs">W = 3</text>
<text x="283.2" y="222.1" text-anchor="middle" font-size="4.6" font-weight="bold" fill="#000">NR</text>
<text x="297.4" y="222.1" text-anchor="middle" font-size="4.6" font-weight="bold" fill="#000">R</text>
<line x1="321.3" y1="133.3" x2="321.3" y2="216.3" stroke="#777" stroke-width="0.6"/>
<line x1="321.3" y1="216.3" x2="351.8" y2="216.3" stroke="#777" stroke-width="0.6"/>
<line x1="320.1" y1="135.6" x2="321.3" y2="135.6" stroke="#666" stroke-width="0.5"/>
<text x="319.7" y="137.3" text-anchor="end" font-size="4.8" fill="#000">7</text>
<line x1="320.1" y1="155.2" x2="321.3" y2="155.2" stroke="#666" stroke-width="0.5"/>
<text x="319.7" y="156.9" text-anchor="end" font-size="4.8" fill="#000">6</text>
<line x1="320.1" y1="174.6" x2="321.3" y2="174.6" stroke="#666" stroke-width="0.5"/>
<text x="319.7" y="176.3" text-anchor="end" font-size="4.8" fill="#000">5</text>
<line x1="320.1" y1="194.0" x2="321.3" y2="194.0" stroke="#666" stroke-width="0.5"/>
<text x="319.7" y="195.7" text-anchor="end" font-size="4.8" fill="#000">4</text>
<line x1="320.1" y1="212.4" x2="321.3" y2="212.4" stroke="#666" stroke-width="0.5"/>
<text x="319.7" y="214.1" text-anchor="end" font-size="4.8" fill="#000">3</text>
<line x1="329.6" y1="148.6" x2="329.6" y2="173.4" stroke="#222" stroke-width="0.6"/>
<line x1="329.6" y1="195.4" x2="329.6" y2="212.0" stroke="#222" stroke-width="0.6"/>
<rect x="324.3" y="173.4" width="10.7" height="22.0" fill="#F8766D" stroke="#333" stroke-width="0.5"/>
<line x1="324.3" y1="188.8" x2="335.0" y2="188.8" stroke="#222" stroke-width="1.0"/>
<circle cx="329.6" cy="148.6" r="0.9" fill="#111"/>
<circle cx="331.0" cy="169.0" r="0.9" fill="#111"/>
<circle cx="328.5" cy="182.0" r="0.9" fill="#111"/>
<circle cx="330.0" cy="188.8" r="0.9" fill="#111"/>
<circle cx="329.6" cy="205.0" r="0.9" fill="#111"/>
<circle cx="329.6" cy="212.0" r="0.9" fill="#111"/>
<line x1="343.6" y1="134.0" x2="343.6" y2="136.8" stroke="#222" stroke-width="0.6"/>
<line x1="343.6" y1="152.9" x2="343.6" y2="159.3" stroke="#222" stroke-width="0.6"/>
<rect x="338.3" y="136.8" width="10.6" height="16.1" fill="#00BFC4" stroke="#333" stroke-width="0.5"/>
<line x1="338.3" y1="144.4" x2="348.9" y2="144.4" stroke="#222" stroke-width="1.0"/>
<circle cx="341.0" cy="137.5" r="0.9" fill="#111"/>
<circle cx="345.0" cy="151.0" r="0.9" fill="#111"/>
<circle cx="343.6" cy="159.3" r="0.9" fill="#111"/>
<text transform="translate(314.8,173.6) rotate(-90)" text-anchor="middle" font-size="4.65" fill="#000" stroke="#000" stroke-width="0.25" textLength="56.8" lengthAdjust="spacingAndGlyphs">Log(Lachnospira/Collinsella)</text>
<text x="326.0" y="136.8" text-anchor="start" font-size="5.2" fill="#000" textLength="17.4" lengthAdjust="spacingAndGlyphs">p = 0.05</text>
<text x="322.3" y="143.0" text-anchor="start" font-size="5.2" fill="#000" textLength="11.8" lengthAdjust="spacingAndGlyphs">W = 2</text>
<text x="329.8" y="222.1" text-anchor="middle" font-size="4.6" font-weight="bold" fill="#000">NR</text>
<text x="343.6" y="222.1" text-anchor="middle" font-size="4.6" font-weight="bold" fill="#000">R</text>
<line x1="369.8" y1="132.6" x2="369.8" y2="216.1" stroke="#777" stroke-width="0.6"/>
<line x1="369.8" y1="216.1" x2="401.0" y2="216.1" stroke="#777" stroke-width="0.6"/>
<line x1="368.6" y1="141.5" x2="369.8" y2="141.5" stroke="#666" stroke-width="0.5"/>
<text x="368.2" y="143.2" text-anchor="end" font-size="4.8" fill="#000">8</text>
<line x1="368.6" y1="165.2" x2="369.8" y2="165.2" stroke="#666" stroke-width="0.5"/>
<text x="368.2" y="166.9" text-anchor="end" font-size="4.8" fill="#000">6</text>
<line x1="368.6" y1="188.8" x2="369.8" y2="188.8" stroke="#666" stroke-width="0.5"/>
<text x="368.2" y="190.5" text-anchor="end" font-size="4.8" fill="#000">4</text>
<line x1="368.6" y1="212.7" x2="369.8" y2="212.7" stroke="#666" stroke-width="0.5"/>
<text x="368.2" y="214.4" text-anchor="end" font-size="4.8" fill="#000">2</text>
<line x1="378.1" y1="139.6" x2="378.1" y2="162.8" stroke="#222" stroke-width="0.6"/>
<line x1="378.1" y1="181.7" x2="378.1" y2="181.7" stroke="#222" stroke-width="0.6"/>
<rect x="372.9" y="162.8" width="10.4" height="18.9" fill="#F8766D" stroke="#333" stroke-width="0.5"/>
<line x1="372.9" y1="169.4" x2="383.3" y2="169.4" stroke="#222" stroke-width="1.0"/>
<circle cx="378.0" cy="139.6" r="0.9" fill="#111"/>
<circle cx="378.0" cy="152.0" r="0.9" fill="#111"/>
<circle cx="376.0" cy="165.0" r="0.9" fill="#111"/>
<circle cx="380.0" cy="172.0" r="0.9" fill="#111"/>
<circle cx="377.0" cy="180.0" r="0.9" fill="#111"/>
<circle cx="377.2" cy="209.7" r="0.9" fill="#111"/>
<circle cx="379.4" cy="213.1" r="0.9" fill="#111"/>
<line x1="392.2" y1="137.0" x2="392.2" y2="140.4" stroke="#222" stroke-width="0.6"/>
<line x1="392.2" y1="144.4" x2="392.2" y2="144.4" stroke="#222" stroke-width="0.6"/>
<rect x="387.0" y="140.4" width="10.4" height="4.0" fill="#00BFC4" stroke="#333" stroke-width="0.5"/>
<line x1="387.0" y1="142.0" x2="397.4" y2="142.0" stroke="#222" stroke-width="1.0"/>
<circle cx="389.0" cy="140.5" r="0.9" fill="#111"/>
<circle cx="392.0" cy="143.0" r="0.9" fill="#111"/>
<circle cx="394.0" cy="137.5" r="0.9" fill="#111"/>
<text transform="translate(363.5,171.9) rotate(-90)" text-anchor="middle" font-size="4.65" fill="#000" stroke="#000" stroke-width="0.25" textLength="58.5" lengthAdjust="spacingAndGlyphs">Log(Lachnospira/Eubacterium)</text>
<text x="374.4" y="136.2" text-anchor="start" font-size="5.2" fill="#000" textLength="18.7" lengthAdjust="spacingAndGlyphs">p = 0.02</text>
<text x="371.3" y="144.7" text-anchor="start" font-size="5.2" fill="#000" textLength="12.5" lengthAdjust="spacingAndGlyphs">W = 3</text>
<text x="378.5" y="221.9" text-anchor="middle" font-size="4.6" font-weight="bold" fill="#000">NR</text>
<text x="391.5" y="221.9" text-anchor="middle" font-size="4.6" font-weight="bold" fill="#000">R</text>
<line x1="275.1" y1="244.0" x2="275.1" y2="329.4" stroke="#777" stroke-width="0.6"/>
<line x1="275.1" y1="329.4" x2="300.0" y2="329.4" stroke="#777" stroke-width="0.6"/>
<line x1="273.9" y1="245.6" x2="275.1" y2="245.6" stroke="#666" stroke-width="0.5"/>
<text x="273.5" y="247.3" text-anchor="end" font-size="4.8" fill="#000">7.5</text>
<line x1="273.9" y1="261.5" x2="275.1" y2="261.5" stroke="#666" stroke-width="0.5"/>
<text x="273.5" y="263.2" text-anchor="end" font-size="4.8" fill="#000">5.0</text>
<line x1="273.9" y1="277.5" x2="275.1" y2="277.5" stroke="#666" stroke-width="0.5"/>
<text x="273.5" y="279.2" text-anchor="end" font-size="4.8" fill="#000">2.5</text>
<line x1="273.9" y1="292.9" x2="275.1" y2="292.9" stroke="#666" stroke-width="0.5"/>
<text x="273.5" y="294.6" text-anchor="end" font-size="4.8" fill="#000">0.0</text>
<line x1="273.9" y1="308.7" x2="275.1" y2="308.7" stroke="#666" stroke-width="0.5"/>
<text x="273.5" y="310.4" text-anchor="end" font-size="4.8" fill="#000">&#8722;2.5</text>
<line x1="273.9" y1="325.1" x2="275.1" y2="325.1" stroke="#666" stroke-width="0.5"/>
<text x="273.5" y="326.8" text-anchor="end" font-size="4.8" fill="#000">&#8722;5.0</text>
<line x1="282.0" y1="287.4" x2="282.0" y2="300.5" stroke="#222" stroke-width="0.6"/>
<line x1="282.0" y1="312.8" x2="282.0" y2="324.8" stroke="#222" stroke-width="0.6"/>
<rect x="277.6" y="300.5" width="8.7" height="12.3" fill="#F8766D" stroke="#333" stroke-width="0.5"/>
<line x1="277.6" y1="306.0" x2="286.3" y2="306.0" stroke="#222" stroke-width="1.0"/>
<circle cx="282.0" cy="287.4" r="0.9" fill="#111"/>
<circle cx="281.0" cy="297.0" r="0.9" fill="#111"/>
<circle cx="280.0" cy="302.0" r="0.9" fill="#111"/>
<circle cx="283.0" cy="307.0" r="0.9" fill="#111"/>
<circle cx="282.0" cy="312.0" r="0.9" fill="#111"/>
<circle cx="281.0" cy="323.0" r="0.9" fill="#111"/>
<circle cx="279.5" cy="325.5" r="0.9" fill="#111"/>
<line x1="293.4" y1="285.0" x2="293.4" y2="291.2" stroke="#222" stroke-width="0.6"/>
<line x1="293.4" y1="296.9" x2="293.4" y2="303.5" stroke="#222" stroke-width="0.6"/>
<rect x="289.3" y="291.2" width="8.2" height="5.7" fill="#00BFC4" stroke="#333" stroke-width="0.5"/>
<line x1="289.3" y1="295.2" x2="297.5" y2="295.2" stroke="#222" stroke-width="1.0"/>
<circle cx="293.4" cy="285.0" r="0.9" fill="#111"/>
<circle cx="291.0" cy="295.0" r="0.9" fill="#111"/>
<circle cx="295.0" cy="296.0" r="0.9" fill="#111"/>
<circle cx="292.0" cy="303.5" r="0.9" fill="#111"/>
<text transform="translate(262.3,287.1) rotate(-90)" text-anchor="middle" font-size="4.65" fill="#000" stroke="#000" stroke-width="0.25" textLength="43.7" lengthAdjust="spacingAndGlyphs">Log(Alistipes/Blautia)</text>
<text x="279.2" y="247.5" text-anchor="start" font-size="5.2" fill="#000" textLength="18.0" lengthAdjust="spacingAndGlyphs">p = 0.03</text>
<text x="279.2" y="254.6" text-anchor="start" font-size="5.2" fill="#000" textLength="12.2" lengthAdjust="spacingAndGlyphs">W = 6</text>
<text x="281.6" y="335.2" text-anchor="middle" font-size="4.6" font-weight="bold" fill="#000">NR</text>
<text x="293.0" y="335.2" text-anchor="middle" font-size="4.6" font-weight="bold" fill="#000">R</text>
<line x1="318.7" y1="244.0" x2="318.7" y2="329.4" stroke="#777" stroke-width="0.6"/>
<line x1="318.7" y1="329.4" x2="345.0" y2="329.4" stroke="#777" stroke-width="0.6"/>
<line x1="317.5" y1="267.6" x2="318.7" y2="267.6" stroke="#666" stroke-width="0.5"/>
<text x="317.1" y="269.3" text-anchor="end" font-size="4.8" fill="#000">4.8</text>
<line x1="317.5" y1="291.5" x2="318.7" y2="291.5" stroke="#666" stroke-width="0.5"/>
<text x="317.1" y="293.2" text-anchor="end" font-size="4.8" fill="#000">2.4</text>
<line x1="317.5" y1="315.4" x2="318.7" y2="315.4" stroke="#666" stroke-width="0.5"/>
<text x="317.1" y="317.1" text-anchor="end" font-size="4.8" fill="#000">0.8</text>
<line x1="326.1" y1="296.0" x2="326.1" y2="302.2" stroke="#222" stroke-width="0.6"/>
<line x1="326.1" y1="321.7" x2="326.1" y2="326.0" stroke="#222" stroke-width="0.6"/>
<rect x="321.7" y="302.2" width="8.8" height="19.5" fill="#F8766D" stroke="#333" stroke-width="0.5"/>
<line x1="321.7" y1="313.4" x2="330.5" y2="313.4" stroke="#222" stroke-width="1.0"/>
<circle cx="323.0" cy="267.6" r="0.9" fill="#111"/>
<circle cx="327.0" cy="296.0" r="0.9" fill="#111"/>
<circle cx="325.0" cy="306.0" r="0.9" fill="#111"/>
<circle cx="326.0" cy="313.0" r="0.9" fill="#111"/>
<circle cx="325.0" cy="320.0" r="0.9" fill="#111"/>
<circle cx="324.0" cy="325.0" r="0.9" fill="#111"/>
<line x1="338.8" y1="258.2" x2="338.8" y2="265.2" stroke="#222" stroke-width="0.6"/>
<line x1="338.8" y1="285.3" x2="338.8" y2="300.7" stroke="#222" stroke-width="0.6"/>
<rect x="334.3" y="265.2" width="8.9" height="20.1" fill="#00BFC4" stroke="#333" stroke-width="0.5"/>
<line x1="334.3" y1="274.0" x2="343.2" y2="274.0" stroke="#222" stroke-width="1.0"/>
<circle cx="338.8" cy="258.2" r="0.9" fill="#111"/>
<circle cx="337.0" cy="268.0" r="0.9" fill="#111"/>
<circle cx="340.0" cy="280.0" r="0.9" fill="#111"/>
<circle cx="338.8" cy="300.7" r="0.9" fill="#111"/>
<text transform="translate(309.5,286.5) rotate(-90)" text-anchor="middle" font-size="4.65" fill="#000" stroke="#000" stroke-width="0.25" textLength="50.6" lengthAdjust="spacingAndGlyphs">Log(Alistipes/Collinsella)</text>
<text x="322.0" y="248.2" text-anchor="start" font-size="5.2" fill="#000" textLength="16.0" lengthAdjust="spacingAndGlyphs">p = 0.03</text>
<text x="322.0" y="254.6" text-anchor="start" font-size="5.2" fill="#000" textLength="11.2" lengthAdjust="spacingAndGlyphs">W = 4</text>
<text x="326.3" y="335.2" text-anchor="middle" font-size="4.6" font-weight="bold" fill="#000">NR</text>
<text x="338.0" y="335.2" text-anchor="middle" font-size="4.6" font-weight="bold" fill="#000">R</text>
<line x1="370.5" y1="244.0" x2="370.5" y2="329.9" stroke="#777" stroke-width="0.6"/>
<line x1="370.5" y1="329.9" x2="395.5" y2="329.9" stroke="#777" stroke-width="0.6"/>
<line x1="369.3" y1="265.2" x2="370.5" y2="265.2" stroke="#666" stroke-width="0.5"/>
<text x="368.9" y="266.9" text-anchor="end" font-size="4.8" fill="#000">5.6</text>
<line x1="369.3" y1="285.8" x2="370.5" y2="285.8" stroke="#666" stroke-width="0.5"/>
<text x="368.9" y="287.5" text-anchor="end" font-size="4.8" fill="#000">2.8</text>
<line x1="369.3" y1="305.9" x2="370.5" y2="305.9" stroke="#666" stroke-width="0.5"/>
<text x="368.9" y="307.6" text-anchor="end" font-size="4.8" fill="#000">0.0</text>
<line x1="369.3" y1="326.5" x2="370.5" y2="326.5" stroke="#666" stroke-width="0.5"/>
<text x="368.9" y="328.2" text-anchor="end" font-size="4.8" fill="#000">&#8722;2.8</text>
<line x1="377.3" y1="264.5" x2="377.3" y2="277.5" stroke="#222" stroke-width="0.6"/>
<line x1="377.3" y1="306.4" x2="377.3" y2="326.0" stroke="#222" stroke-width="0.6"/>
<rect x="372.9" y="277.5" width="8.8" height="28.9" fill="#F8766D" stroke="#333" stroke-width="0.5"/>
<line x1="372.9" y1="288.9" x2="381.7" y2="288.9" stroke="#222" stroke-width="1.0"/>
<circle cx="376.0" cy="264.5" r="0.9" fill="#111"/>
<circle cx="377.0" cy="277.5" r="0.9" fill="#111"/>
<circle cx="378.0" cy="286.0" r="0.9" fill="#111"/>
<circle cx="376.5" cy="289.0" r="0.9" fill="#111"/>
<circle cx="377.0" cy="306.0" r="0.9" fill="#111"/>
<circle cx="377.0" cy="321.0" r="0.9" fill="#111"/>
<circle cx="378.0" cy="325.5" r="0.9" fill="#111"/>
<line x1="389.5" y1="251.0" x2="389.5" y2="255.1" stroke="#222" stroke-width="0.6"/>
<line x1="389.5" y1="262.9" x2="389.5" y2="262.9" stroke="#222" stroke-width="0.6"/>
<rect x="385.6" y="255.1" width="7.8" height="7.8" fill="#00BFC4" stroke="#333" stroke-width="0.5"/>
<line x1="385.6" y1="256.7" x2="393.4" y2="256.7" stroke="#222" stroke-width="1.0"/>
<circle cx="387.0" cy="277.5" r="0.9" fill="#111"/>
<circle cx="389.0" cy="253.0" r="0.9" fill="#111"/>
<circle cx="390.0" cy="257.0" r="0.9" fill="#111"/>
<text transform="translate(359.3,288.6) rotate(-90)" text-anchor="middle" font-size="4.65" fill="#000" stroke="#000" stroke-width="0.25" textLength="53.0" lengthAdjust="spacingAndGlyphs">Log(Alistipes/Eubacterium)</text>
<text x="374.4" y="248.2" text-anchor="start" font-size="5.2" fill="#000" textLength="17.4" lengthAdjust="spacingAndGlyphs">p = 0.02</text>
<text x="370.2" y="253.9" text-anchor="start" font-size="5.2" fill="#000" textLength="12.9" lengthAdjust="spacingAndGlyphs">W = 3</text>
<text x="377.0" y="335.7" text-anchor="middle" font-size="4.6" font-weight="bold" fill="#000">NR</text>
<text x="388.0" y="335.7" text-anchor="middle" font-size="4.6" font-weight="bold" fill="#000">R</text>
<text x="406.9" y="15.8" text-anchor="start" font-size="10.5" font-weight="bold" fill="#000">(H)</text>
<text x="459.3" y="6.2" text-anchor="start" font-size="8.6" font-weight="bold" fill="#000" textLength="70.3" lengthAdjust="spacingAndGlyphs">Fecal metabolome</text>
<text x="455.7" y="236.1" text-anchor="start" font-size="8.6" font-weight="bold" fill="#000" textLength="77.2" lengthAdjust="spacingAndGlyphs">Plasma metabolome</text>
<text x="406.3" y="235.4" text-anchor="start" font-size="10.5" font-weight="bold" fill="#000">(I)</text>
<line x1="435.4" y1="21.6" x2="435.4" y2="109.6" stroke="#777" stroke-width="0.6"/>
<line x1="435.4" y1="109.6" x2="464.2" y2="109.6" stroke="#777" stroke-width="0.6"/>
<line x1="434.2" y1="49.0" x2="435.4" y2="49.0" stroke="#666" stroke-width="0.5"/>
<text x="433.8" y="51.0" text-anchor="end" font-size="5.6" fill="#000">2</text>
<line x1="434.2" y1="78.2" x2="435.4" y2="78.2" stroke="#666" stroke-width="0.5"/>
<text x="433.8" y="80.2" text-anchor="end" font-size="5.6" fill="#000">0</text>
<line x1="434.2" y1="106.4" x2="435.4" y2="106.4" stroke="#666" stroke-width="0.5"/>
<text x="433.8" y="108.4" text-anchor="end" font-size="5.6" fill="#000">&#8722;2</text>
<line x1="442.9" y1="53.5" x2="442.9" y2="70.2" stroke="#222" stroke-width="0.6"/>
<line x1="442.9" y1="95.2" x2="442.9" y2="105.9" stroke="#222" stroke-width="0.6"/>
<rect x="438.4" y="70.2" width="9.0" height="25.0" fill="#F8766D" stroke="#333" stroke-width="0.5"/>
<line x1="438.4" y1="82.7" x2="447.4" y2="82.7" stroke="#222" stroke-width="1.0"/>
<circle cx="443.0" cy="53.5" r="0.9" fill="#111"/>
<circle cx="441.0" cy="70.0" r="0.9" fill="#111"/>
<circle cx="445.0" cy="78.0" r="0.9" fill="#111"/>
<circle cx="442.0" cy="85.0" r="0.9" fill="#111"/>
<circle cx="444.0" cy="90.0" r="0.9" fill="#111"/>
<circle cx="441.0" cy="97.0" r="0.9" fill="#111"/>
<circle cx="443.0" cy="105.9" r="0.9" fill="#111"/>
<line x1="455.5" y1="28.0" x2="455.5" y2="38.4" stroke="#222" stroke-width="0.6"/>
<line x1="455.5" y1="68.1" x2="455.5" y2="84.6" stroke="#222" stroke-width="0.6"/>
<rect x="450.8" y="38.4" width="9.3" height="29.7" fill="#00BFC4" stroke="#333" stroke-width="0.5"/>
<line x1="450.8" y1="48.7" x2="460.1" y2="48.7" stroke="#222" stroke-width="1.0"/>
<circle cx="455.4" cy="28.0" r="0.9" fill="#111"/>
<circle cx="453.0" cy="45.0" r="0.9" fill="#111"/>
<circle cx="457.0" cy="60.0" r="0.9" fill="#111"/>
<circle cx="455.4" cy="84.6" r="0.9" fill="#111"/>
<text transform="translate(425.4,66.0) rotate(-90)" text-anchor="middle" font-size="5.25" fill="#000" stroke="#000" stroke-width="0.25" textLength="86.8" lengthAdjust="spacingAndGlyphs">Log(13−docosenamide/13−OxoODE)</text>
<text x="441.0" y="27.1" text-anchor="start" font-size="5.5" fill="#000" textLength="21.1" lengthAdjust="spacingAndGlyphs">p = 0.02</text>
<text x="440.3" y="33.8" text-anchor="start" font-size="5.5" fill="#000" textLength="15.0" lengthAdjust="spacingAndGlyphs">W = 11</text>
<text x="442.7" y="116.2" text-anchor="middle" font-size="5.4" font-weight="bold" fill="#000">NR</text>
<text x="455.0" y="116.2" text-anchor="middle" font-size="5.4" font-weight="bold" fill="#000">R</text>
<line x1="480.6" y1="23.0" x2="480.6" y2="109.6" stroke="#777" stroke-width="0.6"/>
<line x1="480.6" y1="109.6" x2="509.5" y2="109.6" stroke="#777" stroke-width="0.6"/>
<line x1="479.4" y1="33.6" x2="480.6" y2="33.6" stroke="#666" stroke-width="0.5"/>
<text x="479.0" y="35.6" text-anchor="end" font-size="5.6" fill="#000">2</text>
<line x1="479.4" y1="48.2" x2="480.6" y2="48.2" stroke="#666" stroke-width="0.5"/>
<text x="479.0" y="50.2" text-anchor="end" font-size="5.6" fill="#000">1</text>
<line x1="479.4" y1="62.8" x2="480.6" y2="62.8" stroke="#666" stroke-width="0.5"/>
<text x="479.0" y="64.8" text-anchor="end" font-size="5.6" fill="#000">0</text>
<line x1="479.4" y1="76.9" x2="480.6" y2="76.9" stroke="#666" stroke-width="0.5"/>
<text x="479.0" y="78.9" text-anchor="end" font-size="5.6" fill="#000">&#8722;1</text>
<line x1="479.4" y1="91.2" x2="480.6" y2="91.2" stroke="#666" stroke-width="0.5"/>
<text x="479.0" y="93.2" text-anchor="end" font-size="5.6" fill="#000">&#8722;2</text>
<line x1="479.4" y1="105.9" x2="480.6" y2="105.9" stroke="#666" stroke-width="0.5"/>
<text x="479.0" y="107.9" text-anchor="end" font-size="5.6" fill="#000">&#8722;3</text>
<line x1="488.1" y1="54.3" x2="488.1" y2="66.0" stroke="#222" stroke-width="0.6"/>
<line x1="488.1" y1="84.5" x2="488.1" y2="105.9" stroke="#222" stroke-width="0.6"/>
<rect x="483.4" y="66.0" width="9.5" height="18.5" fill="#F8766D" stroke="#333" stroke-width="0.5"/>
<line x1="483.4" y1="78.2" x2="492.9" y2="78.2" stroke="#222" stroke-width="1.0"/>
<circle cx="488.0" cy="54.3" r="0.9" fill="#111"/>
<circle cx="486.0" cy="58.0" r="0.9" fill="#111"/>
<circle cx="489.0" cy="70.0" r="0.9" fill="#111"/>
<circle cx="487.0" cy="77.0" r="0.9" fill="#111"/>
<circle cx="490.0" cy="82.0" r="0.9" fill="#111"/>
<circle cx="488.0" cy="105.9" r="0.9" fill="#111"/>
<line x1="501.0" y1="36.2" x2="501.0" y2="50.0" stroke="#222" stroke-width="0.6"/>
<line x1="501.0" y1="65.4" x2="501.0" y2="70.0" stroke="#222" stroke-width="0.6"/>
<rect x="496.4" y="50.0" width="9.3" height="15.4" fill="#00BFC4" stroke="#333" stroke-width="0.5"/>
<line x1="496.4" y1="58.0" x2="505.7" y2="58.0" stroke="#222" stroke-width="1.0"/>
<circle cx="501.0" cy="36.2" r="0.9" fill="#111"/>
<circle cx="499.0" cy="52.0" r="0.9" fill="#111"/>
<circle cx="503.0" cy="58.0" r="0.9" fill="#111"/>
<circle cx="500.0" cy="62.0" r="0.9" fill="#111"/>
<text transform="translate(471.5,66.3) rotate(-90)" text-anchor="middle" font-size="5.25" fill="#000" stroke="#000" stroke-width="0.25" textLength="85.0" lengthAdjust="spacingAndGlyphs">Log(13−docosenamide/L−Tyrosine)</text>
<text x="486.7" y="27.1" text-anchor="start" font-size="5.5" fill="#000" textLength="20.0" lengthAdjust="spacingAndGlyphs">p = 0.01</text>
<text x="484.6" y="33.8" text-anchor="start" font-size="5.5" fill="#000" textLength="15.7" lengthAdjust="spacingAndGlyphs">W = 39</text>
<text x="487.7" y="116.2" text-anchor="middle" font-size="5.4" font-weight="bold" fill="#000">NR</text>
<text x="501.0" y="116.2" text-anchor="middle" font-size="5.4" font-weight="bold" fill="#000">R</text>
<line x1="526.0" y1="23.0" x2="526.0" y2="109.6" stroke="#777" stroke-width="0.6"/>
<line x1="526.0" y1="109.6" x2="551.7" y2="109.6" stroke="#777" stroke-width="0.6"/>
<line x1="524.8" y1="27.0" x2="526.0" y2="27.0" stroke="#666" stroke-width="0.5"/>
<text x="524.4" y="29.0" text-anchor="end" font-size="5.6" fill="#000">2</text>
<line x1="524.8" y1="43.7" x2="526.0" y2="43.7" stroke="#666" stroke-width="0.5"/>
<text x="524.4" y="45.7" text-anchor="end" font-size="5.6" fill="#000">1</text>
<line x1="524.8" y1="60.2" x2="526.0" y2="60.2" stroke="#666" stroke-width="0.5"/>
<text x="524.4" y="62.2" text-anchor="end" font-size="5.6" fill="#000">0</text>
<line x1="524.8" y1="77.4" x2="526.0" y2="77.4" stroke="#666" stroke-width="0.5"/>
<text x="524.4" y="79.4" text-anchor="end" font-size="5.6" fill="#000">&#8722;1</text>
<line x1="524.8" y1="94.2" x2="526.0" y2="94.2" stroke="#666" stroke-width="0.5"/>
<text x="524.4" y="96.2" text-anchor="end" font-size="5.6" fill="#000">&#8722;2</text>
<line x1="534.0" y1="64.1" x2="534.0" y2="82.0" stroke="#222" stroke-width="0.6"/>
<line x1="534.0" y1="101.3" x2="534.0" y2="104.0" stroke="#222" stroke-width="0.6"/>
<rect x="528.9" y="82.0" width="10.1" height="19.3" fill="#F8766D" stroke="#333" stroke-width="0.5"/>
<line x1="528.9" y1="98.2" x2="539.0" y2="98.2" stroke="#222" stroke-width="1.0"/>
<circle cx="534.0" cy="64.1" r="0.9" fill="#111"/>
<circle cx="532.0" cy="78.0" r="0.9" fill="#111"/>
<circle cx="533.0" cy="97.0" r="0.9" fill="#111"/>
<circle cx="536.0" cy="98.0" r="0.9" fill="#111"/>
<circle cx="535.0" cy="103.0" r="0.9" fill="#111"/>
<circle cx="537.0" cy="104.0" r="0.9" fill="#111"/>
<line x1="547.5" y1="54.0" x2="547.5" y2="54.9" stroke="#222" stroke-width="0.6"/>
<line x1="547.5" y1="65.5" x2="547.5" y2="78.2" stroke="#222" stroke-width="0.6"/>
<rect x="542.7" y="54.9" width="9.6" height="10.6" fill="#00BFC4" stroke="#333" stroke-width="0.5"/>
<line x1="542.7" y1="57.5" x2="552.3" y2="57.5" stroke="#222" stroke-width="1.0"/>
<circle cx="545.0" cy="56.0" r="0.9" fill="#111"/>
<circle cx="549.0" cy="57.0" r="0.9" fill="#111"/>
<circle cx="546.0" cy="70.0" r="0.9" fill="#111"/>
<circle cx="547.5" cy="78.2" r="0.9" fill="#111"/>
<text transform="translate(517.2,66.5) rotate(-90)" text-anchor="middle" font-size="5.25" fill="#000" stroke="#000" stroke-width="0.25" textLength="91.9" lengthAdjust="spacingAndGlyphs">Log(13−docosenamide/L−Tryptophan)</text>
<text x="533.9" y="27.3" text-anchor="start" font-size="5.5" fill="#000" textLength="18.9" lengthAdjust="spacingAndGlyphs">p &lt; 0.01</text>
<text x="534.0" y="33.4" text-anchor="start" font-size="5.5" fill="#000" textLength="12.9" lengthAdjust="spacingAndGlyphs">W = 5</text>
<text x="534.0" y="116.2" text-anchor="middle" font-size="5.4" font-weight="bold" fill="#000">NR</text>
<text x="546.0" y="116.2" text-anchor="middle" font-size="5.4" font-weight="bold" fill="#000">R</text>
<line x1="435.1" y1="125.3" x2="435.1" y2="212.8" stroke="#777" stroke-width="0.6"/>
<line x1="435.1" y1="212.8" x2="464.2" y2="212.8" stroke="#777" stroke-width="0.6"/>
<line x1="433.9" y1="128.3" x2="435.1" y2="128.3" stroke="#666" stroke-width="0.5"/>
<text x="433.5" y="130.3" text-anchor="end" font-size="5.6" fill="#000">0</text>
<line x1="433.9" y1="152.0" x2="435.1" y2="152.0" stroke="#666" stroke-width="0.5"/>
<text x="433.5" y="154.0" text-anchor="end" font-size="5.6" fill="#000">&#8722;1</text>
<line x1="433.9" y1="175.6" x2="435.1" y2="175.6" stroke="#666" stroke-width="0.5"/>
<text x="433.5" y="177.6" text-anchor="end" font-size="5.6" fill="#000">&#8722;2</text>
<line x1="433.9" y1="199.2" x2="435.1" y2="199.2" stroke="#666" stroke-width="0.5"/>
<text x="433.5" y="201.2" text-anchor="end" font-size="5.6" fill="#000">&#8722;3</text>
<line x1="442.8" y1="152.0" x2="442.8" y2="173.5" stroke="#222" stroke-width="0.6"/>
<line x1="442.8" y1="203.7" x2="442.8" y2="208.0" stroke="#222" stroke-width="0.6"/>
<rect x="438.0" y="173.5" width="9.5" height="30.2" fill="#F8766D" stroke="#333" stroke-width="0.5"/>
<line x1="438.0" y1="196.3" x2="447.5" y2="196.3" stroke="#222" stroke-width="1.0"/>
<circle cx="442.7" cy="152.0" r="0.9" fill="#111"/>
<circle cx="441.0" cy="160.0" r="0.9" fill="#111"/>
<circle cx="444.0" cy="185.0" r="0.9" fill="#111"/>
<circle cx="442.0" cy="196.0" r="0.9" fill="#111"/>
<circle cx="440.0" cy="202.0" r="0.9" fill="#111"/>
<circle cx="443.0" cy="206.0" r="0.9" fill="#111"/>
<line x1="455.6" y1="141.6" x2="455.6" y2="149.0" stroke="#222" stroke-width="0.6"/>
<line x1="455.6" y1="185.4" x2="455.6" y2="203.7" stroke="#222" stroke-width="0.6"/>
<rect x="451.1" y="149.0" width="9.1" height="36.4" fill="#00BFC4" stroke="#333" stroke-width="0.5"/>
<line x1="451.1" y1="165.8" x2="460.2" y2="165.8" stroke="#222" stroke-width="1.0"/>
<circle cx="455.6" cy="141.6" r="0.9" fill="#111"/>
<circle cx="454.0" cy="150.0" r="0.9" fill="#111"/>
<circle cx="457.0" cy="175.0" r="0.9" fill="#111"/>
<circle cx="455.6" cy="203.7" r="0.9" fill="#111"/>
<text transform="translate(426.0,166.8) rotate(-90)" text-anchor="middle" font-size="5.25" fill="#000" stroke="#000" stroke-width="0.25" textLength="83.8" lengthAdjust="spacingAndGlyphs">Log(13−docosenamide/Linoleic Acid)</text>
<text x="442.0" y="129.7" text-anchor="start" font-size="5.5" fill="#000" textLength="21.1" lengthAdjust="spacingAndGlyphs">p = 0.07</text>
<text x="442.0" y="136.9" text-anchor="start" font-size="5.5" fill="#000" textLength="15.4" lengthAdjust="spacingAndGlyphs">W = 15</text>
<text x="442.5" y="219.4" text-anchor="middle" font-size="5.4" font-weight="bold" fill="#000">NR</text>
<text x="455.0" y="219.4" text-anchor="middle" font-size="5.4" font-weight="bold" fill="#000">R</text>
<line x1="480.1" y1="125.3" x2="480.1" y2="212.8" stroke="#777" stroke-width="0.6"/>
<line x1="480.1" y1="212.8" x2="507.7" y2="212.8" stroke="#777" stroke-width="0.6"/>
<line x1="478.9" y1="128.3" x2="480.1" y2="128.3" stroke="#666" stroke-width="0.5"/>
<text x="478.5" y="130.3" text-anchor="end" font-size="5.6" fill="#000">2</text>
<line x1="478.9" y1="152.0" x2="480.1" y2="152.0" stroke="#666" stroke-width="0.5"/>
<text x="478.5" y="154.0" text-anchor="end" font-size="5.6" fill="#000">1</text>
<line x1="478.9" y1="175.6" x2="480.1" y2="175.6" stroke="#666" stroke-width="0.5"/>
<text x="478.5" y="177.6" text-anchor="end" font-size="5.6" fill="#000">0</text>
<line x1="478.9" y1="199.2" x2="480.1" y2="199.2" stroke="#666" stroke-width="0.5"/>
<text x="478.5" y="201.2" text-anchor="end" font-size="5.6" fill="#000">&#8722;1</text>
<line x1="488.4" y1="160.8" x2="488.4" y2="176.5" stroke="#222" stroke-width="0.6"/>
<line x1="488.4" y1="200.1" x2="488.4" y2="205.0" stroke="#222" stroke-width="0.6"/>
<rect x="483.6" y="176.5" width="9.5" height="23.6" fill="#F8766D" stroke="#333" stroke-width="0.5"/>
<line x1="483.6" y1="191.3" x2="493.1" y2="191.3" stroke="#222" stroke-width="1.0"/>
<circle cx="488.3" cy="160.8" r="0.9" fill="#111"/>
<circle cx="487.0" cy="178.0" r="0.9" fill="#111"/>
<circle cx="489.0" cy="186.0" r="0.9" fill="#111"/>
<circle cx="486.0" cy="191.0" r="0.9" fill="#111"/>
<circle cx="490.0" cy="195.0" r="0.9" fill="#111"/>
<circle cx="489.0" cy="199.0" r="0.9" fill="#111"/>
<line x1="501.0" y1="132.1" x2="501.0" y2="149.9" stroke="#222" stroke-width="0.6"/>
<line x1="501.0" y1="180.6" x2="501.0" y2="209.0" stroke="#222" stroke-width="0.6"/>
<rect x="496.1" y="149.9" width="9.7" height="30.7" fill="#00BFC4" stroke="#333" stroke-width="0.5"/>
<line x1="496.1" y1="162.3" x2="505.8" y2="162.3" stroke="#222" stroke-width="1.0"/>
<circle cx="501.0" cy="132.1" r="0.9" fill="#111"/>
<circle cx="499.0" cy="150.0" r="0.9" fill="#111"/>
<circle cx="503.0" cy="160.0" r="0.9" fill="#111"/>
<circle cx="500.0" cy="180.0" r="0.9" fill="#111"/>
<circle cx="501.0" cy="209.0" r="0.9" fill="#111"/>
<text transform="translate(471.7,170.2) rotate(-90)" text-anchor="middle" font-size="5.25" fill="#000" stroke="#000" stroke-width="0.25" textLength="78.8" lengthAdjust="spacingAndGlyphs">Log(13−docosenamide/Riboflavin)</text>
<text x="488.1" y="129.7" text-anchor="start" font-size="5.5" fill="#000" textLength="20.0" lengthAdjust="spacingAndGlyphs">p = 0.11</text>
<text x="485.3" y="135.1" text-anchor="start" font-size="5.5" fill="#000" textLength="15.0" lengthAdjust="spacingAndGlyphs">W = 18</text>
<text x="487.6" y="219.4" text-anchor="middle" font-size="5.4" font-weight="bold" fill="#000">NR</text>
<text x="500.4" y="219.4" text-anchor="middle" font-size="5.4" font-weight="bold" fill="#000">R</text>
<line x1="527.0" y1="125.3" x2="527.0" y2="212.8" stroke="#777" stroke-width="0.6"/>
<line x1="527.0" y1="212.8" x2="551.7" y2="212.8" stroke="#777" stroke-width="0.6"/>
<line x1="525.8" y1="128.3" x2="527.0" y2="128.3" stroke="#666" stroke-width="0.5"/>
<text x="525.4" y="130.3" text-anchor="end" font-size="5.6" fill="#000">30</text>
<line x1="525.8" y1="148.1" x2="527.0" y2="148.1" stroke="#666" stroke-width="0.5"/>
<text x="525.4" y="150.1" text-anchor="end" font-size="5.6" fill="#000">20</text>
<line x1="525.8" y1="168.2" x2="527.0" y2="168.2" stroke="#666" stroke-width="0.5"/>
<text x="525.4" y="170.2" text-anchor="end" font-size="5.6" fill="#000">10</text>
<line x1="525.8" y1="187.4" x2="527.0" y2="187.4" stroke="#666" stroke-width="0.5"/>
<text x="525.4" y="189.4" text-anchor="end" font-size="5.6" fill="#000">0</text>
<line x1="525.8" y1="207.3" x2="527.0" y2="207.3" stroke="#666" stroke-width="0.5"/>
<text x="525.4" y="209.3" text-anchor="end" font-size="5.6" fill="#000">&#8722;10</text>
<line x1="536.0" y1="162.3" x2="536.0" y2="175.6" stroke="#222" stroke-width="0.6"/>
<line x1="536.0" y1="192.5" x2="536.0" y2="209.0" stroke="#222" stroke-width="0.6"/>
<rect x="531.6" y="175.6" width="8.9" height="16.9" fill="#F8766D" stroke="#333" stroke-width="0.5"/>
<line x1="531.6" y1="183.0" x2="540.5" y2="183.0" stroke="#222" stroke-width="1.0"/>
<circle cx="536.0" cy="162.3" r="0.9" fill="#111"/>
<circle cx="534.0" cy="178.0" r="0.9" fill="#111"/>
<circle cx="538.0" cy="183.0" r="0.9" fill="#111"/>
<circle cx="535.0" cy="187.0" r="0.9" fill="#111"/>
<circle cx="536.0" cy="200.0" r="0.9" fill="#111"/>
<circle cx="537.0" cy="209.0" r="0.9" fill="#111"/>
<line x1="548.0" y1="141.0" x2="548.0" y2="146.9" stroke="#222" stroke-width="0.6"/>
<line x1="548.0" y1="168.8" x2="548.0" y2="181.5" stroke="#222" stroke-width="0.6"/>
<rect x="544.3" y="146.9" width="7.4" height="21.9" fill="#00BFC4" stroke="#333" stroke-width="0.5"/>
<line x1="544.3" y1="165.3" x2="551.7" y2="165.3" stroke="#222" stroke-width="1.0"/>
<circle cx="548.0" cy="141.0" r="0.9" fill="#111"/>
<circle cx="546.0" cy="158.0" r="0.9" fill="#111"/>
<circle cx="549.0" cy="166.0" r="0.9" fill="#111"/>
<circle cx="547.0" cy="181.5" r="0.9" fill="#111"/>
<text transform="translate(517.1,170.2) rotate(-90)" text-anchor="middle" font-size="5.25" fill="#000" stroke="#000" stroke-width="0.25" textLength="78.8" lengthAdjust="spacingAndGlyphs">Log(13−docosenamide/Dipeptides)</text>
<text x="535.4" y="129.9" text-anchor="start" font-size="5.5" fill="#000" textLength="18.7" lengthAdjust="spacingAndGlyphs">p &lt; 0.01</text>
<text x="532.7" y="135.8" text-anchor="start" font-size="5.5" fill="#000" textLength="12.9" lengthAdjust="spacingAndGlyphs">W = 8</text>
<text x="535.3" y="219.4" text-anchor="middle" font-size="5.4" font-weight="bold" fill="#000">NR</text>
<text x="546.0" y="219.4" text-anchor="middle" font-size="5.4" font-weight="bold" fill="#000">R</text>
<line x1="436.1" y1="253.0" x2="436.1" y2="329.6" stroke="#777" stroke-width="0.6"/>
<line x1="436.1" y1="329.6" x2="464.0" y2="329.6" stroke="#777" stroke-width="0.6"/>
<line x1="434.9" y1="266.9" x2="436.1" y2="266.9" stroke="#666" stroke-width="0.5"/>
<text x="434.5" y="268.9" text-anchor="end" font-size="5.6" fill="#000">4</text>
<line x1="434.9" y1="286.8" x2="436.1" y2="286.8" stroke="#666" stroke-width="0.5"/>
<text x="434.5" y="288.8" text-anchor="end" font-size="5.6" fill="#000">2</text>
<line x1="434.9" y1="307.3" x2="436.1" y2="307.3" stroke="#666" stroke-width="0.5"/>
<text x="434.5" y="309.3" text-anchor="end" font-size="5.6" fill="#000">0</text>
<line x1="434.9" y1="327.8" x2="436.1" y2="327.8" stroke="#666" stroke-width="0.5"/>
<text x="434.5" y="329.8" text-anchor="end" font-size="5.6" fill="#000">&#8722;2</text>
<line x1="443.5" y1="282.4" x2="443.5" y2="298.5" stroke="#222" stroke-width="0.6"/>
<line x1="443.5" y1="319.6" x2="443.5" y2="326.3" stroke="#222" stroke-width="0.6"/>
<rect x="438.4" y="298.5" width="10.3" height="21.1" fill="#F8766D" stroke="#333" stroke-width="0.5"/>
<line x1="438.4" y1="306.7" x2="448.7" y2="306.7" stroke="#222" stroke-width="1.0"/>
<circle cx="443.5" cy="282.4" r="0.9" fill="#111"/>
<circle cx="441.0" cy="295.0" r="0.9" fill="#111"/>
<circle cx="446.0" cy="300.0" r="0.9" fill="#111"/>
<circle cx="443.0" cy="306.7" r="0.9" fill="#111"/>
<circle cx="441.0" cy="316.0" r="0.9" fill="#111"/>
<circle cx="444.0" cy="320.0" r="0.9" fill="#111"/>
<circle cx="443.0" cy="326.3" r="0.9" fill="#111"/>
<line x1="457.1" y1="258.1" x2="457.1" y2="277.5" stroke="#222" stroke-width="0.6"/>
<line x1="457.1" y1="300.9" x2="457.1" y2="315.5" stroke="#222" stroke-width="0.6"/>
<rect x="452.5" y="277.5" width="9.3" height="23.4" fill="#00BFC4" stroke="#333" stroke-width="0.5"/>
<line x1="452.5" y1="287.4" x2="461.8" y2="287.4" stroke="#222" stroke-width="1.0"/>
<circle cx="457.0" cy="258.1" r="0.9" fill="#111"/>
<circle cx="455.0" cy="278.0" r="0.9" fill="#111"/>
<circle cx="459.0" cy="288.0" r="0.9" fill="#111"/>
<circle cx="457.0" cy="315.5" r="0.9" fill="#111"/>
<text transform="translate(427.4,291.2) rotate(-90)" text-anchor="middle" font-size="4.8" fill="#000" stroke="#000" stroke-width="0.25" textLength="80.5" lengthAdjust="spacingAndGlyphs">Log(Elaidic acid/Taurohyodeoxycholic)</text>
<text x="444.6" y="256.9" text-anchor="start" font-size="5.5" fill="#000" textLength="18.5" lengthAdjust="spacingAndGlyphs">p = 0.04</text>
<text x="440.3" y="264.3" text-anchor="start" font-size="5.5" fill="#000" textLength="15.0" lengthAdjust="spacingAndGlyphs">W = 14</text>
<text x="444.0" y="336.2" text-anchor="middle" font-size="5.4" font-weight="bold" fill="#000">NR</text>
<text x="456.0" y="336.2" text-anchor="middle" font-size="5.4" font-weight="bold" fill="#000">R</text>
<line x1="480.6" y1="253.2" x2="480.6" y2="329.6" stroke="#777" stroke-width="0.6"/>
<line x1="480.6" y1="329.6" x2="510.0" y2="329.6" stroke="#777" stroke-width="0.6"/>
<line x1="479.4" y1="257.0" x2="480.6" y2="257.0" stroke="#666" stroke-width="0.5"/>
<text x="479.0" y="259.0" text-anchor="end" font-size="5.6" fill="#000">3</text>
<line x1="479.4" y1="275.7" x2="480.6" y2="275.7" stroke="#666" stroke-width="0.5"/>
<text x="479.0" y="277.7" text-anchor="end" font-size="5.6" fill="#000">2</text>
<line x1="479.4" y1="295.0" x2="480.6" y2="295.0" stroke="#666" stroke-width="0.5"/>
<text x="479.0" y="297.0" text-anchor="end" font-size="5.6" fill="#000">1</text>
<line x1="479.4" y1="314.6" x2="480.6" y2="314.6" stroke="#666" stroke-width="0.5"/>
<text x="479.0" y="316.6" text-anchor="end" font-size="5.6" fill="#000">0</text>
<line x1="489.4" y1="272.8" x2="489.4" y2="284.5" stroke="#222" stroke-width="0.6"/>
<line x1="489.4" y1="320.5" x2="489.4" y2="327.2" stroke="#222" stroke-width="0.6"/>
<rect x="484.3" y="284.5" width="10.2" height="36.0" fill="#F8766D" stroke="#333" stroke-width="0.5"/>
<line x1="484.3" y1="295.6" x2="494.5" y2="295.6" stroke="#222" stroke-width="1.0"/>
<circle cx="489.4" cy="272.8" r="0.9" fill="#111"/>
<circle cx="488.0" cy="285.0" r="0.9" fill="#111"/>
<circle cx="491.0" cy="290.0" r="0.9" fill="#111"/>
<circle cx="486.0" cy="295.6" r="0.9" fill="#111"/>
<circle cx="490.0" cy="300.0" r="0.9" fill="#111"/>
<circle cx="489.0" cy="316.0" r="0.9" fill="#111"/>
<circle cx="488.0" cy="323.0" r="0.9" fill="#111"/>
<circle cx="489.4" cy="327.2" r="0.9" fill="#111"/>
<line x1="503.5" y1="262.0" x2="503.5" y2="273.7" stroke="#222" stroke-width="0.6"/>
<line x1="503.5" y1="286.2" x2="503.5" y2="296.2" stroke="#222" stroke-width="0.6"/>
<rect x="498.6" y="273.7" width="9.7" height="12.5" fill="#00BFC4" stroke="#333" stroke-width="0.5"/>
<line x1="498.6" y1="283.9" x2="508.3" y2="283.9" stroke="#222" stroke-width="1.0"/>
<circle cx="503.4" cy="262.0" r="0.9" fill="#111"/>
<circle cx="501.0" cy="275.0" r="0.9" fill="#111"/>
<circle cx="505.0" cy="283.9" r="0.9" fill="#111"/>
<circle cx="503.4" cy="296.2" r="0.9" fill="#111"/>
<text transform="translate(474.3,291.4) rotate(-90)" text-anchor="middle" font-size="4.8" fill="#000" stroke="#000" stroke-width="0.25" textLength="80.9" lengthAdjust="spacingAndGlyphs">Log(L−kynurenine/D−Pantothenic acid)</text>
<text x="490.0" y="256.9" text-anchor="start" font-size="5.5" fill="#000" textLength="18.1" lengthAdjust="spacingAndGlyphs">p = 0.03</text>
<text x="485.3" y="264.3" text-anchor="start" font-size="5.5" fill="#000" textLength="15.0" lengthAdjust="spacingAndGlyphs">W = 18</text>
<text x="489.3" y="336.2" text-anchor="middle" font-size="5.4" font-weight="bold" fill="#000">NR</text>
<text x="502.4" y="336.2" text-anchor="middle" font-size="5.4" font-weight="bold" fill="#000">R</text>
<line x1="530.6" y1="253.2" x2="530.6" y2="329.4" stroke="#777" stroke-width="0.6"/>
<line x1="530.6" y1="329.4" x2="559.0" y2="329.4" stroke="#777" stroke-width="0.6"/>
<line x1="529.4" y1="257.0" x2="530.6" y2="257.0" stroke="#666" stroke-width="0.5"/>
<text x="529.0" y="259.0" text-anchor="end" font-size="5.6" fill="#000">4</text>
<line x1="529.4" y1="278.6" x2="530.6" y2="278.6" stroke="#666" stroke-width="0.5"/>
<text x="529.0" y="280.6" text-anchor="end" font-size="5.6" fill="#000">2</text>
<line x1="529.4" y1="300.9" x2="530.6" y2="300.9" stroke="#666" stroke-width="0.5"/>
<text x="529.0" y="302.9" text-anchor="end" font-size="5.6" fill="#000">0</text>
<line x1="529.4" y1="323.4" x2="530.6" y2="323.4" stroke="#666" stroke-width="0.5"/>
<text x="529.0" y="325.4" text-anchor="end" font-size="5.6" fill="#000">&#8722;2</text>
<line x1="538.2" y1="266.3" x2="538.2" y2="283.9" stroke="#222" stroke-width="0.6"/>
<line x1="538.2" y1="306.7" x2="538.2" y2="326.3" stroke="#222" stroke-width="0.6"/>
<rect x="533.4" y="283.9" width="9.6" height="22.8" fill="#F8766D" stroke="#333" stroke-width="0.5"/>
<line x1="533.4" y1="295.0" x2="543.0" y2="295.0" stroke="#222" stroke-width="1.0"/>
<circle cx="538.2" cy="266.3" r="0.9" fill="#111"/>
<circle cx="536.0" cy="285.0" r="0.9" fill="#111"/>
<circle cx="540.0" cy="290.0" r="0.9" fill="#111"/>
<circle cx="537.0" cy="295.0" r="0.9" fill="#111"/>
<circle cx="539.0" cy="300.0" r="0.9" fill="#111"/>
<circle cx="538.0" cy="306.0" r="0.9" fill="#111"/>
<circle cx="538.2" cy="326.3" r="0.9" fill="#111"/>
<line x1="551.8" y1="261.1" x2="551.8" y2="264.9" stroke="#222" stroke-width="0.6"/>
<line x1="551.8" y1="285.3" x2="551.8" y2="299.1" stroke="#222" stroke-width="0.6"/>
<rect x="547.4" y="264.9" width="8.8" height="20.4" fill="#00BFC4" stroke="#333" stroke-width="0.5"/>
<line x1="547.4" y1="278.6" x2="556.2" y2="278.6" stroke="#222" stroke-width="1.0"/>
<circle cx="551.8" cy="261.1" r="0.9" fill="#111"/>
<circle cx="550.0" cy="270.0" r="0.9" fill="#111"/>
<circle cx="553.0" cy="278.6" r="0.9" fill="#111"/>
<circle cx="551.8" cy="299.1" r="0.9" fill="#111"/>
<text transform="translate(520.8,293.4) rotate(-90)" text-anchor="middle" font-size="4.8" fill="#000" stroke="#000" stroke-width="0.25" textLength="90.2" lengthAdjust="spacingAndGlyphs">Log(L−kynurenine/Taurohyodeoxycholic a</text>
<text x="538.0" y="257.5" text-anchor="start" font-size="5.5" fill="#000" textLength="18.8" lengthAdjust="spacingAndGlyphs">p = 0.04</text>
<text x="534.3" y="263.7" text-anchor="start" font-size="5.5" fill="#000" textLength="15.5" lengthAdjust="spacingAndGlyphs">W = 14</text>
<text x="538.0" y="336.0" text-anchor="middle" font-size="5.4" font-weight="bold" fill="#000">NR</text>
<text x="550.3" y="336.0" text-anchor="middle" font-size="5.4" font-weight="bold" fill="#000">R</text>
</svg></body></html>
